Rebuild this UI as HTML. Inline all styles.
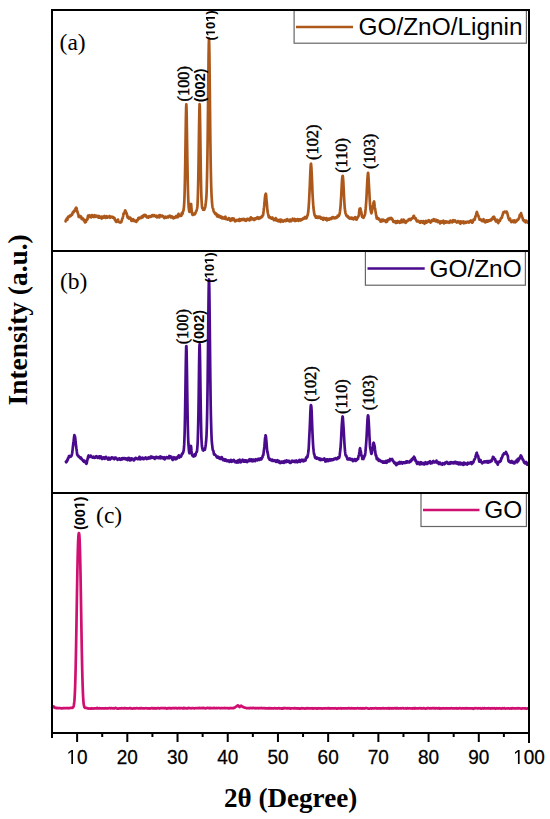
<!DOCTYPE html>
<html><head><meta charset="utf-8"><title>XRD patterns</title>
<style>
html,body{margin:0;padding:0;background:#fff;}
body{width:550px;height:819px;overflow:hidden;font-family:"Liberation Sans", sans-serif;}
svg{display:block;}
</style></head><body>
<svg width="550" height="819" viewBox="0 0 550 819">
<rect width="550" height="819" fill="#fff"/>
<g fill="none" stroke-linejoin="round" stroke-linecap="round" stroke-width="2.7">
<path stroke="#AD581B" d="M65.60 221.45L65.80 220.24L66.00 220.64L66.20 220.11L66.40 219.29L66.60 219.05L66.81 218.51L67.01 220.03L67.21 219.87L67.41 219.73L67.61 218.19L67.81 217.61L68.01 217.09L68.21 216.77L68.41 216.89L68.61 216.89L68.81 217.07L69.01 216.56L69.22 216.37L69.42 216.39L69.62 216.53L69.82 216.24L70.02 215.53L70.22 215.42L70.42 216.14L70.62 216.00L70.82 215.62L71.02 215.19L71.22 214.86L71.42 214.73L71.63 214.58L71.83 214.95L72.03 214.84L72.23 214.51L72.43 213.10L72.63 213.17L72.83 212.36L73.03 212.51L73.23 212.01L73.43 212.33L73.63 212.40L73.83 211.53L74.04 210.90L74.24 210.63L74.44 211.08L74.64 210.93L74.84 210.61L75.04 210.13L75.24 209.50L75.44 208.81L75.64 208.33L75.84 208.30L76.04 208.24L76.24 207.70L76.45 208.32L76.65 208.28L76.85 209.53L77.05 210.36L77.25 211.40L77.45 211.92L77.65 212.15L77.85 213.69L78.05 213.69L78.25 214.43L78.45 215.13L78.65 216.95L78.86 216.68L79.06 216.27L79.26 215.98L79.46 216.51L79.66 217.23L79.86 216.71L80.06 217.04L80.26 216.13L80.46 217.02L80.66 217.06L80.86 217.49L81.06 216.62L81.27 217.40L81.47 217.99L81.67 219.04L81.87 219.06L82.07 219.12L82.27 218.84L82.47 218.38L82.67 218.18L82.87 219.10L83.07 219.10L83.27 219.40L83.47 219.04L83.68 219.85L83.88 220.48L84.08 220.39L84.28 219.95L84.48 219.98L84.68 221.05L84.88 222.14L85.08 222.44L85.28 222.14L85.48 222.21L85.68 221.98L85.89 221.86L86.09 220.99L86.29 220.62L86.49 219.79L86.69 219.75L86.89 219.28L87.09 219.69L87.29 219.52L87.49 219.45L87.69 217.37L87.89 216.45L88.09 215.68L88.30 216.52L88.50 215.80L88.70 216.37L88.90 216.50L89.10 216.79L89.30 216.00L89.50 215.31L89.70 215.73L89.90 216.24L90.10 217.17L90.30 217.04L90.50 217.03L90.71 216.33L90.91 216.96L91.11 216.90L91.31 217.27L91.51 216.25L91.71 215.88L91.91 215.08L92.11 215.97L92.31 216.29L92.51 216.50L92.71 215.87L92.91 215.84L93.12 215.74L93.32 215.61L93.52 215.65L93.72 216.77L93.92 217.04L94.12 216.72L94.32 215.50L94.52 215.16L94.72 215.57L94.92 216.30L95.12 216.80L95.32 216.77L95.53 216.55L95.73 216.63L95.93 216.02L96.13 215.84L96.33 215.84L96.53 216.10L96.73 216.10L96.93 215.78L97.13 215.94L97.33 216.40L97.53 216.55L97.73 216.62L97.94 216.61L98.14 216.97L98.34 217.61L98.54 216.62L98.74 216.70L98.94 215.96L99.14 216.73L99.34 216.72L99.54 217.27L99.74 217.58L99.94 217.35L100.14 217.55L100.35 217.12L100.55 217.03L100.75 216.78L100.95 216.70L101.15 217.51L101.35 217.61L101.55 218.57L101.75 217.83L101.95 217.37L102.15 216.70L102.35 216.98L102.55 216.93L102.76 217.03L102.96 216.79L103.16 217.57L103.36 217.23L103.56 217.61L103.76 216.86L103.96 216.77L104.16 216.18L104.36 216.00L104.56 216.39L104.76 217.00L104.97 217.48L105.17 217.65L105.37 217.87L105.57 217.92L105.77 217.78L105.97 217.13L106.17 216.50L106.37 216.70L106.57 216.20L106.77 216.99L106.97 216.73L107.17 217.73L107.38 217.50L107.58 217.23L107.78 216.97L107.98 216.81L108.18 217.05L108.38 216.96L108.58 217.12L108.78 217.13L108.98 216.84L109.18 216.84L109.38 216.18L109.58 216.43L109.79 216.10L109.99 217.23L110.19 217.74L110.39 217.50L110.59 217.18L110.79 216.71L110.99 217.04L111.19 217.18L111.39 217.08L111.59 216.85L111.79 216.59L111.99 216.71L112.20 217.41L112.40 217.13L112.60 217.44L112.80 217.70L113.00 217.78L113.20 217.40L113.40 217.17L113.60 217.41L113.80 218.29L114.00 218.44L114.20 218.57L114.40 217.98L114.61 218.17L114.81 219.59L115.01 220.08L115.21 220.42L115.41 220.09L115.61 220.42L115.81 221.44L116.01 221.36L116.21 221.91L116.41 221.47L116.61 221.87L116.81 221.01L117.02 221.36L117.22 220.90L117.42 221.12L117.62 219.99L117.82 219.58L118.02 219.61L118.22 220.54L118.42 221.31L118.62 221.80L118.82 221.98L119.02 221.99L119.22 222.13L119.43 222.36L119.63 222.38L119.83 222.29L120.03 222.48L120.23 222.55L120.43 222.12L120.63 221.88L120.83 222.40L121.03 222.40L121.23 222.07L121.43 221.32L121.63 221.32L121.84 220.02L122.04 219.49L122.24 218.78L122.44 218.43L122.64 218.11L122.84 217.18L123.04 216.57L123.24 215.42L123.44 214.01L123.64 213.45L123.84 213.51L124.05 213.23L124.25 213.57L124.45 212.42L124.65 212.57L124.85 211.45L125.05 210.44L125.25 210.33L125.45 210.81L125.65 211.61L125.85 211.78L126.05 212.26L126.25 212.87L126.46 213.17L126.66 213.27L126.86 214.26L127.06 215.15L127.26 216.17L127.46 216.87L127.66 217.51L127.86 217.27L128.06 216.66L128.26 216.77L128.46 217.58L128.66 218.25L128.87 218.57L129.07 218.24L129.27 218.38L129.47 218.15L129.67 218.32L129.87 217.90L130.07 217.64L130.27 217.71L130.47 217.90L130.67 218.24L130.87 218.76L131.07 219.23L131.28 220.68L131.48 220.90L131.68 220.84L131.88 220.23L132.08 220.13L132.28 220.16L132.48 220.33L132.68 219.99L132.88 219.22L133.08 219.17L133.28 219.27L133.48 220.88L133.69 220.43L133.89 220.29L134.09 220.36L134.29 220.27L134.49 220.79L134.69 220.81L134.89 221.27L135.09 221.22L135.29 220.80L135.49 221.10L135.69 220.90L135.89 221.13L136.10 220.99L136.30 221.92L136.50 221.44L136.70 220.78L136.90 220.08L137.10 219.91L137.30 220.17L137.50 219.81L137.70 220.20L137.90 219.72L138.10 219.50L138.30 218.07L138.51 217.83L138.71 218.24L138.91 218.73L139.11 218.65L139.31 217.55L139.51 217.83L139.71 217.98L139.91 217.84L140.11 217.74L140.31 217.64L140.51 218.18L140.71 217.60L140.92 217.99L141.12 217.74L141.32 217.80L141.52 216.89L141.72 216.54L141.92 216.75L142.12 216.71L142.32 217.04L142.52 216.82L142.72 217.25L142.92 217.03L143.13 216.68L143.33 215.44L143.53 215.14L143.73 215.30L143.93 215.89L144.13 215.96L144.33 215.58L144.53 215.44L144.73 214.98L144.93 215.66L145.13 215.89L145.33 216.10L145.54 215.22L145.74 215.16L145.94 215.88L146.14 216.54L146.34 216.40L146.54 216.44L146.74 216.82L146.94 217.46L147.14 217.29L147.34 217.24L147.54 217.14L147.74 217.19L147.95 216.57L148.15 216.89L148.35 216.68L148.55 217.62L148.75 216.38L148.95 216.51L149.15 216.13L149.35 216.69L149.55 216.57L149.75 216.47L149.95 216.76L150.15 216.39L150.36 216.06L150.56 216.18L150.76 216.78L150.96 216.84L151.16 216.49L151.36 216.09L151.56 216.39L151.76 215.97L151.96 215.42L152.16 215.12L152.36 215.13L152.56 215.41L152.77 215.42L152.97 215.99L153.17 215.85L153.37 216.12L153.57 215.37L153.77 215.94L153.97 215.15L154.17 215.35L154.37 215.40L154.57 215.83L154.77 216.02L154.97 215.67L155.18 215.99L155.38 216.27L155.58 216.44L155.78 216.66L155.98 216.46L156.18 216.29L156.38 215.72L156.58 216.34L156.78 216.81L156.98 217.41L157.18 216.97L157.38 216.55L157.59 216.37L157.79 216.22L157.99 216.53L158.19 216.46L158.39 216.33L158.59 215.99L158.79 215.67L158.99 216.48L159.19 217.37L159.39 217.35L159.59 216.73L159.79 215.03L160.00 215.11L160.20 215.15L160.40 215.62L160.60 215.86L160.80 215.38L161.00 215.72L161.20 215.54L161.40 215.70L161.60 216.12L161.80 216.48L162.00 216.48L162.21 215.75L162.41 215.64L162.61 216.15L162.81 216.27L163.01 216.01L163.21 216.03L163.41 216.44L163.61 216.88L163.81 217.09L164.01 217.79L164.21 217.98L164.41 218.08L164.62 217.84L164.82 217.81L165.02 217.82L165.22 217.03L165.42 216.86L165.62 216.64L165.82 217.61L166.02 217.35L166.22 217.50L166.42 217.05L166.62 217.59L166.82 217.47L167.03 217.26L167.23 216.78L167.43 216.57L167.63 216.71L167.83 216.60L168.03 216.83L168.23 217.38L168.43 217.19L168.63 217.05L168.83 216.26L169.03 216.58L169.23 216.10L169.44 215.88L169.64 215.58L169.84 216.11L170.04 216.31L170.24 216.24L170.44 215.85L170.64 216.13L170.84 216.89L171.04 217.39L171.24 217.38L171.44 217.12L171.64 216.78L171.85 216.70L172.05 216.55L172.25 217.06L172.45 217.25L172.65 217.01L172.85 217.39L173.05 218.04L173.25 218.33L173.45 218.04L173.65 217.51L173.85 217.83L174.05 217.15L174.26 217.57L174.46 217.10L174.66 218.00L174.86 217.43L175.06 217.42L175.26 216.89L175.46 217.12L175.66 216.92L175.86 216.79L176.06 216.27L176.26 215.92L176.46 216.45L176.67 216.76L176.87 217.29L177.07 217.18L177.27 216.59L177.47 216.51L177.67 216.63L177.87 217.22L178.07 216.41L178.27 214.59L178.47 213.82L178.67 214.86L178.87 215.76L179.08 215.95L179.28 215.69L179.48 215.45L179.68 215.49L179.88 215.44L180.08 215.79L180.28 215.76L180.48 215.18L180.68 215.09L180.88 214.68L181.08 215.20L181.29 215.75L181.49 215.47L181.69 214.08L181.89 212.83L182.09 212.96L182.29 213.79L182.49 213.97L182.69 213.19L182.89 212.10L183.09 211.60L183.29 210.78L183.49 210.49L183.70 208.71L183.90 207.57L184.10 204.93L184.30 201.75L184.50 196.88L184.70 189.72L184.90 181.04L185.10 170.22L185.30 158.26L185.50 144.86L185.70 130.76L185.90 117.77L186.11 107.98L186.31 104.45L186.51 107.99L186.71 116.73L186.91 129.68L187.11 143.46L187.31 157.41L187.51 169.05L187.71 179.69L187.91 188.64L188.11 195.16L188.31 200.44L188.52 204.34L188.72 207.59L188.92 209.11L189.12 210.60L189.32 211.77L189.52 211.88L189.72 211.35L189.92 210.80L190.12 210.42L190.32 208.26L190.52 206.55L190.72 204.24L190.93 203.85L191.13 204.13L191.33 206.77L191.53 209.15L191.73 211.06L191.93 212.38L192.13 213.79L192.33 214.37L192.53 214.86L192.73 214.58L192.93 214.56L193.13 214.65L193.34 214.29L193.54 214.81L193.74 214.08L193.94 214.47L194.14 213.64L194.34 213.44L194.54 213.55L194.74 213.92L194.94 214.07L195.14 213.38L195.34 213.27L195.54 212.54L195.75 212.03L195.95 211.49L196.15 211.29L196.35 210.97L196.55 210.41L196.75 209.89L196.95 209.05L197.15 208.25L197.35 206.66L197.55 204.29L197.75 199.63L197.95 193.40L198.16 184.80L198.36 174.78L198.56 162.11L198.76 148.46L198.96 133.97L199.16 121.05L199.36 110.38L199.56 104.18L199.76 105.32L199.96 112.93L200.16 126.21L200.37 140.62L200.57 155.70L200.77 169.42L200.97 180.85L201.17 190.17L201.37 196.01L201.57 200.40L201.77 203.42L201.97 206.25L202.17 207.71L202.37 208.31L202.57 207.92L202.78 208.51L202.98 209.10L203.18 209.75L203.38 209.72L203.58 208.95L203.78 209.04L203.98 209.37L204.18 209.85L204.38 209.52L204.58 208.44L204.78 208.37L204.98 207.69L205.19 207.37L205.39 206.14L205.59 204.33L205.79 202.96L205.99 200.86L206.19 199.36L206.39 196.70L206.59 192.73L206.79 186.44L206.99 178.65L207.19 169.34L207.39 158.54L207.60 144.34L207.80 127.51L208.00 109.52L208.20 90.82L208.40 72.39L208.60 54.96L208.80 43.74L209.00 38.33L209.20 42.69L209.40 54.13L209.60 71.51L209.80 90.67L210.01 108.90L210.21 127.71L210.41 143.59L210.61 158.19L210.81 169.48L211.01 178.99L211.21 186.62L211.41 191.80L211.61 196.27L211.81 199.24L212.01 202.09L212.21 204.42L212.42 206.26L212.62 207.52L212.82 208.18L213.02 208.53L213.22 209.23L213.42 210.33L213.62 210.98L213.82 211.74L214.02 211.87L214.22 212.06L214.42 212.59L214.62 212.60L214.83 213.20L215.03 213.69L215.23 213.93L215.43 214.15L215.63 213.31L215.83 213.71L216.03 213.41L216.23 214.00L216.43 214.15L216.63 214.86L216.83 215.68L217.03 216.09L217.24 216.40L217.44 215.96L217.64 215.89L217.84 215.48L218.04 214.98L218.24 215.18L218.44 216.12L218.64 216.99L218.84 216.87L219.04 216.96L219.24 216.76L219.45 216.83L219.65 215.95L219.85 215.86L220.05 216.09L220.25 217.28L220.45 217.64L220.65 217.45L220.85 216.65L221.05 216.73L221.25 216.58L221.45 216.91L221.65 217.31L221.86 218.09L222.06 218.33L222.26 217.72L222.46 217.10L222.66 217.41L222.86 218.31L223.06 218.42L223.26 218.09L223.46 217.76L223.66 218.51L223.86 218.55L224.06 218.40L224.27 218.32L224.47 218.34L224.67 218.52L224.87 217.85L225.07 216.80L225.27 216.58L225.47 216.69L225.67 217.83L225.87 218.38L226.07 219.06L226.27 218.88L226.47 218.68L226.68 219.02L226.88 218.93L227.08 219.25L227.28 219.12L227.48 219.48L227.68 219.69L227.88 219.23L228.08 219.49L228.28 218.70L228.48 218.71L228.68 218.04L228.88 218.54L229.09 218.51L229.29 218.92L229.49 218.41L229.69 219.13L229.89 219.78L230.09 220.28L230.29 220.51L230.49 220.10L230.69 220.80L230.89 220.30L231.09 219.60L231.29 219.40L231.50 219.35L231.70 219.57L231.90 218.86L232.10 218.37L232.30 218.70L232.50 218.59L232.70 219.69L232.90 220.01L233.10 219.85L233.30 218.87L233.50 218.50L233.70 218.47L233.91 219.00L234.11 219.24L234.31 219.69L234.51 219.59L234.71 219.83L234.91 220.64L235.11 221.39L235.31 221.29L235.51 221.15L235.71 220.43L235.91 220.62L236.11 220.05L236.32 220.60L236.52 220.09L236.72 220.14L236.92 219.94L237.12 220.55L237.32 220.34L237.52 220.11L237.72 219.92L237.92 220.44L238.12 220.29L238.32 220.23L238.53 220.01L238.73 220.73L238.93 220.84L239.13 220.43L239.33 219.15L239.53 218.94L239.73 219.75L239.93 220.52L240.13 220.74L240.33 220.12L240.53 219.54L240.73 219.45L240.94 219.60L241.14 220.29L241.34 219.56L241.54 219.59L241.74 219.14L241.94 219.90L242.14 219.63L242.34 219.64L242.54 219.16L242.74 219.80L242.94 220.02L243.14 219.96L243.35 219.18L243.55 218.81L243.75 219.57L243.95 219.30L244.15 219.37L244.35 219.09L244.55 220.12L244.75 220.36L244.95 220.41L245.15 220.25L245.35 220.61L245.55 220.33L245.76 220.62L245.96 220.33L246.16 220.82L246.36 219.85L246.56 220.08L246.76 219.10L246.96 218.94L247.16 218.77L247.36 218.89L247.56 219.54L247.76 218.98L247.96 219.79L248.17 219.61L248.37 219.57L248.57 219.06L248.77 219.33L248.97 219.43L249.17 219.53L249.37 219.90L249.57 220.44L249.77 220.23L249.97 219.31L250.17 219.19L250.37 218.64L250.58 217.77L250.78 217.32L250.98 217.44L251.18 219.06L251.38 219.31L251.58 219.32L251.78 218.29L251.98 218.39L252.18 218.41L252.38 218.59L252.58 218.36L252.78 218.65L252.99 218.85L253.19 218.90L253.39 219.29L253.59 219.81L253.79 219.18L253.99 219.59L254.19 219.02L254.39 219.98L254.59 218.82L254.79 218.85L254.99 218.47L255.19 218.73L255.40 218.88L255.60 219.00L255.80 218.58L256.00 218.21L256.20 218.22L256.40 218.76L256.60 218.65L256.80 218.27L257.00 217.95L257.20 217.65L257.40 217.27L257.61 217.82L257.81 218.02L258.01 218.46L258.21 217.62L258.41 218.16L258.61 218.69L258.81 218.82L259.01 218.50L259.21 217.59L259.41 218.22L259.61 218.31L259.81 218.22L260.02 217.98L260.22 217.72L260.42 218.08L260.62 217.70L260.82 217.27L261.02 216.85L261.22 216.88L261.42 217.01L261.62 216.77L261.82 217.13L262.02 216.91L262.22 216.82L262.43 215.60L262.63 215.52L262.83 215.54L263.03 215.20L263.23 214.40L263.43 212.47L263.63 210.92L263.83 208.86L264.03 207.51L264.23 205.70L264.43 202.89L264.63 201.60L264.84 198.82L265.04 197.54L265.24 195.09L265.44 194.66L265.64 194.40L265.84 193.72L266.04 194.39L266.24 196.46L266.44 199.38L266.64 201.76L266.84 203.05L267.04 206.02L267.25 208.58L267.45 210.85L267.65 211.90L267.85 212.93L268.05 213.86L268.25 214.60L268.45 215.34L268.65 216.39L268.85 217.27L269.05 217.47L269.25 217.34L269.45 217.21L269.66 217.12L269.86 216.96L270.06 217.32L270.26 217.52L270.46 218.10L270.66 218.04L270.86 217.89L271.06 218.16L271.26 218.18L271.46 218.61L271.66 218.61L271.86 218.27L272.07 217.62L272.27 217.47L272.47 217.49L272.67 218.61L272.87 218.87L273.07 219.07L273.27 218.85L273.47 219.29L273.67 219.93L273.87 220.10L274.07 219.84L274.27 219.42L274.48 219.31L274.68 219.42L274.88 219.54L275.08 219.74L275.28 219.22L275.48 218.74L275.68 218.11L275.88 218.40L276.08 219.49L276.28 220.53L276.48 220.40L276.69 219.46L276.89 219.38L277.09 219.94L277.29 220.06L277.49 220.20L277.69 220.16L277.89 221.13L278.09 220.93L278.29 221.21L278.49 220.89L278.69 220.47L278.89 220.11L279.10 219.80L279.30 220.44L279.50 220.20L279.70 219.94L279.90 219.91L280.10 220.68L280.30 221.73L280.50 221.89L280.70 221.01L280.90 220.30L281.10 219.76L281.30 220.30L281.51 219.82L281.71 220.03L281.91 220.16L282.11 220.57L282.31 220.59L282.51 220.88L282.71 221.20L282.91 221.50L283.11 221.41L283.31 221.51L283.51 221.26L283.71 220.76L283.92 221.02L284.12 220.70L284.32 220.56L284.52 220.35L284.72 220.24L284.92 220.60L285.12 220.70L285.32 220.95L285.52 220.81L285.72 220.74L285.92 220.95L286.12 220.37L286.33 219.61L286.53 219.80L286.73 220.47L286.93 220.20L287.13 219.28L287.33 219.15L287.53 219.53L287.73 220.16L287.93 220.17L288.13 220.68L288.33 220.12L288.53 220.30L288.74 220.81L288.94 220.93L289.14 221.17L289.34 220.83L289.54 221.33L289.74 220.85L289.94 220.11L290.14 219.57L290.34 219.83L290.54 220.54L290.74 221.23L290.94 221.28L291.15 221.22L291.35 220.63L291.55 219.85L291.75 219.59L291.95 219.88L292.15 220.30L292.35 219.68L292.55 219.30L292.75 218.73L292.95 219.28L293.15 219.07L293.35 219.49L293.56 219.52L293.76 219.90L293.96 220.40L294.16 219.92L294.36 219.14L294.56 219.02L294.76 219.90L294.96 221.16L295.16 220.96L295.36 220.68L295.56 220.25L295.77 219.73L295.97 219.37L296.17 219.51L296.37 219.78L296.57 220.65L296.77 219.97L296.97 220.04L297.17 219.78L297.37 220.12L297.57 219.90L297.77 219.06L297.97 219.04L298.18 219.92L298.38 220.49L298.58 220.88L298.78 220.15L298.98 220.26L299.18 220.09L299.38 219.91L299.58 219.43L299.78 219.42L299.98 220.10L300.18 220.19L300.38 220.25L300.59 220.50L300.79 220.21L300.99 219.56L301.19 219.16L301.39 219.54L301.59 219.88L301.79 219.59L301.99 219.27L302.19 219.42L302.39 219.15L302.59 219.47L302.79 218.83L303.00 218.59L303.20 218.28L303.40 218.45L303.60 218.89L303.80 218.75L304.00 218.64L304.20 218.38L304.40 218.11L304.60 217.66L304.80 217.09L305.00 216.88L305.20 217.14L305.41 217.44L305.61 217.90L305.81 218.11L306.01 218.53L306.21 218.48L306.41 218.02L306.61 217.74L306.81 217.43L307.01 217.00L307.21 216.13L307.41 215.59L307.61 215.18L307.82 214.59L308.02 213.29L308.22 212.09L308.42 209.93L308.62 207.80L308.82 204.83L309.02 202.07L309.22 197.72L309.42 193.82L309.62 189.44L309.82 185.31L310.02 180.16L310.23 175.03L310.43 170.15L310.63 166.41L310.83 163.96L311.03 163.69L311.23 165.50L311.43 168.04L311.63 172.31L311.83 176.06L312.03 181.04L312.23 185.65L312.43 191.33L312.64 195.76L312.84 198.93L313.04 202.04L313.24 205.09L313.44 207.81L313.64 209.21L313.84 210.49L314.04 212.08L314.24 213.58L314.44 214.02L314.64 215.32L314.85 215.51L315.05 216.23L315.25 215.94L315.45 216.21L315.65 217.33L315.85 217.63L316.05 217.60L316.25 216.80L316.45 216.37L316.65 216.48L316.85 216.95L317.05 216.98L317.26 217.73L317.46 217.55L317.66 217.78L317.86 217.62L318.06 217.02L318.26 216.80L318.46 216.73L318.66 217.45L318.86 217.81L319.06 217.78L319.26 217.60L319.46 217.58L319.67 217.01L319.87 216.60L320.07 217.12L320.27 217.32L320.47 217.77L320.67 217.86L320.87 218.59L321.07 218.70L321.27 218.08L321.47 217.72L321.67 217.62L321.87 218.03L322.08 218.14L322.28 218.55L322.48 218.66L322.68 218.89L322.88 219.52L323.08 219.81L323.28 219.01L323.48 218.72L323.68 217.85L323.88 217.98L324.08 217.94L324.28 218.12L324.49 218.53L324.69 218.69L324.89 218.73L325.09 218.56L325.29 218.33L325.49 219.01L325.69 219.53L325.89 218.91L326.09 218.29L326.29 218.08L326.49 219.31L326.69 219.87L326.90 220.24L327.10 220.01L327.30 219.62L327.50 219.52L327.70 219.30L327.90 219.10L328.10 218.90L328.30 218.86L328.50 218.75L328.70 218.97L328.90 218.97L329.10 219.62L329.31 219.01L329.51 218.71L329.71 218.78L329.91 219.25L330.11 218.87L330.31 218.38L330.51 218.52L330.71 218.69L330.91 218.67L331.11 219.02L331.31 219.03L331.51 218.85L331.72 217.61L331.92 217.39L332.12 217.92L332.32 218.21L332.52 218.01L332.72 217.17L332.92 217.20L333.12 217.85L333.32 217.90L333.52 218.12L333.72 217.67L333.93 218.03L334.13 217.94L334.33 218.29L334.53 218.00L334.73 217.74L334.93 217.68L335.13 217.35L335.33 217.44L335.53 217.40L335.73 218.17L335.93 218.05L336.13 217.76L336.34 217.40L336.54 217.10L336.74 217.03L336.94 217.05L337.14 217.32L337.34 216.95L337.54 216.59L337.74 215.65L337.94 216.16L338.14 215.93L338.34 216.56L338.54 215.68L338.75 215.56L338.95 215.29L339.15 215.57L339.35 214.56L339.55 213.97L339.75 212.65L339.95 211.66L340.15 210.04L340.35 208.14L340.55 206.07L340.75 203.00L340.95 200.11L341.16 196.77L341.36 193.20L341.56 188.85L341.76 184.71L341.96 181.21L342.16 178.84L342.36 176.76L342.56 176.06L342.76 175.91L342.96 177.15L343.16 179.56L343.36 182.67L343.57 187.03L343.77 191.16L343.97 195.28L344.17 198.76L344.37 202.55L344.57 205.64L344.77 208.25L344.97 209.75L345.17 211.33L345.37 212.58L345.57 213.53L345.77 213.59L345.98 214.76L346.18 214.78L346.38 215.64L346.58 215.66L346.78 216.29L346.98 216.44L347.18 216.51L347.38 216.26L347.58 216.59L347.78 216.11L347.98 216.33L348.18 216.79L348.39 217.44L348.59 217.90L348.79 218.15L348.99 218.16L349.19 217.88L349.39 217.53L349.59 218.15L349.79 218.44L349.99 218.69L350.19 218.12L350.39 218.22L350.59 218.29L350.80 218.34L351.00 218.23L351.20 217.83L351.40 217.56L351.60 217.77L351.80 218.31L352.00 218.93L352.20 218.82L352.40 218.29L352.60 218.19L352.80 218.39L353.01 218.17L353.21 218.26L353.41 218.29L353.61 219.41L353.81 218.78L354.01 218.17L354.21 217.90L354.41 217.70L354.61 217.92L354.81 217.30L355.01 217.59L355.21 217.21L355.42 217.52L355.62 218.22L355.82 219.04L356.02 219.28L356.22 218.80L356.42 219.11L356.62 219.09L356.82 219.52L357.02 218.43L357.22 218.27L357.42 217.38L357.62 217.84L357.83 217.52L358.03 217.14L358.23 216.56L358.43 216.20L358.63 215.89L358.83 215.00L359.03 213.12L359.23 211.44L359.43 209.60L359.63 208.80L359.83 208.59L360.03 208.69L360.24 208.72L360.44 208.49L360.64 209.42L360.84 210.48L361.04 211.42L361.24 211.85L361.44 212.87L361.64 214.10L361.84 215.96L362.04 216.61L362.24 216.93L362.44 216.43L362.65 217.09L362.85 217.16L363.05 217.57L363.25 217.11L363.45 217.82L363.65 217.58L363.85 217.08L364.05 216.49L364.25 215.98L364.45 216.01L364.65 215.24L364.85 215.15L365.06 213.85L365.26 212.82L365.46 210.43L365.66 208.67L365.86 206.31L366.06 203.97L366.26 201.21L366.46 197.60L366.66 193.51L366.86 189.62L367.06 185.68L367.26 181.87L367.47 178.43L367.67 176.08L367.87 173.75L368.07 172.83L368.27 173.76L368.47 177.07L368.67 180.06L368.87 183.96L369.07 187.34L369.27 191.42L369.47 194.76L369.67 198.58L369.88 202.11L370.08 205.18L370.28 207.49L370.48 209.57L370.68 210.45L370.88 211.44L371.08 212.23L371.28 212.83L371.48 213.28L371.68 212.25L371.88 211.56L372.09 210.33L372.29 209.50L372.49 208.25L372.69 206.96L372.89 205.76L373.09 204.96L373.29 203.82L373.49 202.92L373.69 202.31L373.89 201.86L374.09 201.52L374.29 202.62L374.50 204.65L374.70 206.64L374.90 207.77L375.10 208.59L375.30 209.64L375.50 211.06L375.70 212.16L375.90 214.07L376.10 214.68L376.30 216.08L376.50 217.06L376.70 218.44L376.91 218.64L377.11 218.65L377.31 217.88L377.51 217.95L377.71 217.85L377.91 218.78L378.11 218.92L378.31 219.14L378.51 218.85L378.71 218.75L378.91 218.65L379.11 219.26L379.32 219.79L379.52 220.12L379.72 220.01L379.92 219.91L380.12 220.27L380.32 220.62L380.52 221.53L380.72 221.66L380.92 221.10L381.12 220.42L381.32 219.74L381.52 219.63L381.73 219.60L381.93 220.24L382.13 221.09L382.33 221.18L382.53 221.16L382.73 220.26L382.93 220.40L383.13 219.82L383.33 219.73L383.53 219.89L383.73 220.29L383.93 220.74L384.14 220.58L384.34 220.25L384.54 220.37L384.74 220.38L384.94 220.83L385.14 220.49L385.34 220.80L385.54 220.93L385.74 221.79L385.94 222.11L386.14 221.93L386.34 221.16L386.55 220.06L386.75 219.88L386.95 220.49L387.15 221.58L387.35 220.60L387.55 219.74L387.75 218.94L387.95 219.34L388.15 219.56L388.35 219.58L388.55 219.65L388.75 219.46L388.96 218.79L389.16 218.52L389.36 218.12L389.56 218.83L389.76 218.41L389.96 218.45L390.16 218.21L390.36 218.55L390.56 218.70L390.76 218.01L390.96 217.98L391.17 217.82L391.37 218.61L391.57 218.68L391.77 219.16L391.97 218.70L392.17 218.79L392.37 219.15L392.57 219.65L392.77 220.40L392.97 220.41L393.17 221.24L393.37 221.88L393.58 221.62L393.78 221.73L393.98 221.26L394.18 221.92L394.38 221.44L394.58 221.74L394.78 221.40L394.98 221.40L395.18 221.09L395.38 221.77L395.58 222.44L395.78 222.93L395.99 222.92L396.19 222.37L396.39 221.47L396.59 221.45L396.79 221.67L396.99 222.36L397.19 222.68L397.39 222.53L397.59 222.31L397.79 220.98L397.99 221.20L398.19 221.22L398.40 221.73L398.60 221.63L398.80 221.26L399.00 221.29L399.20 221.79L399.40 222.37L399.60 222.84L399.80 222.39L400.00 222.32L400.20 222.03L400.40 222.52L400.60 222.24L400.81 222.39L401.01 221.49L401.21 221.38L401.41 220.28L401.61 219.67L401.81 220.31L402.01 221.64L402.21 222.14L402.41 221.58L402.61 221.26L402.81 221.05L403.01 221.65L403.22 221.07L403.42 221.15L403.62 219.57L403.82 220.43L404.02 220.68L404.22 222.17L404.42 221.29L404.62 221.37L404.82 220.82L405.02 221.22L405.22 221.80L405.42 222.54L405.63 222.93L405.83 222.06L406.03 221.57L406.23 221.54L406.43 221.86L406.63 221.73L406.83 221.42L407.03 220.89L407.23 220.73L407.43 221.07L407.63 220.98L407.83 220.88L408.04 220.56L408.24 220.39L408.44 220.26L408.64 219.34L408.84 219.55L409.04 219.07L409.24 219.29L409.44 219.28L409.64 219.62L409.84 219.81L410.04 219.10L410.25 219.69L410.45 219.61L410.65 220.01L410.85 219.20L411.05 219.30L411.25 219.06L411.45 218.87L411.65 218.33L411.85 218.59L412.05 218.21L412.25 218.26L412.45 217.93L412.66 217.86L412.86 217.85L413.06 217.45L413.26 216.82L413.46 216.21L413.66 215.97L413.86 216.08L414.06 215.98L414.26 217.15L414.46 217.64L414.66 218.12L414.86 217.63L415.07 218.41L415.27 218.63L415.47 218.84L415.67 218.33L415.87 218.88L416.07 219.76L416.27 219.98L416.47 219.90L416.67 220.21L416.87 221.46L417.07 221.48L417.27 221.15L417.48 221.11L417.68 221.40L417.88 221.41L418.08 220.97L418.28 220.73L418.48 220.92L418.68 221.24L418.88 221.23L419.08 221.27L419.28 221.58L419.48 222.15L419.68 222.47L419.89 221.93L420.09 222.35L420.29 221.78L420.49 222.64L420.69 222.04L420.89 222.09L421.09 221.16L421.29 221.20L421.49 221.30L421.69 221.40L421.89 221.45L422.09 221.87L422.30 222.44L422.50 222.46L422.70 222.68L422.90 222.06L423.10 221.85L423.30 221.06L423.50 221.64L423.70 221.48L423.90 221.42L424.10 221.68L424.30 222.82L424.50 223.79L424.71 222.86L424.91 222.30L425.11 222.12L425.31 222.62L425.51 222.02L425.71 221.58L425.91 220.92L426.11 221.01L426.31 221.83L426.51 222.61L426.71 222.48L426.91 221.19L427.12 221.07L427.32 221.33L427.52 222.00L427.72 221.58L427.92 221.68L428.12 221.53L428.32 221.35L428.52 220.72L428.72 220.19L428.92 220.26L429.12 220.81L429.33 221.16L429.53 221.34L429.73 221.54L429.93 221.22L430.13 221.67L430.33 222.12L430.53 222.49L430.73 222.01L430.93 221.69L431.13 221.73L431.33 221.67L431.53 221.12L431.74 220.59L431.94 220.06L432.14 220.29L432.34 220.89L432.54 220.87L432.74 220.55L432.94 220.16L433.14 220.32L433.34 220.02L433.54 219.75L433.74 219.16L433.94 219.34L434.15 219.31L434.35 220.66L434.55 220.94L434.75 220.86L434.95 220.07L435.15 220.40L435.35 221.17L435.55 221.34L435.75 220.80L435.95 219.85L436.15 219.78L436.35 219.87L436.56 220.21L436.76 221.02L436.96 220.53L437.16 220.84L437.36 220.48L437.56 221.38L437.76 222.11L437.96 221.59L438.16 221.25L438.36 220.77L438.56 221.37L438.76 221.56L438.97 221.33L439.17 221.72L439.37 221.56L439.57 221.69L439.77 221.88L439.97 222.91L440.17 223.47L440.37 222.75L440.57 221.93L440.77 221.38L440.97 221.36L441.17 221.50L441.38 222.22L441.58 222.67L441.78 222.53L441.98 221.81L442.18 221.31L442.38 221.96L442.58 221.51L442.78 221.99L442.98 221.06L443.18 221.37L443.38 220.74L443.58 221.55L443.79 221.86L443.99 223.30L444.19 222.59L444.39 222.22L444.59 221.46L444.79 221.99L444.99 222.25L445.19 221.33L445.39 221.61L445.59 221.88L445.79 222.69L445.99 221.97L446.20 222.00L446.40 221.67L446.60 221.89L446.80 221.61L447.00 222.24L447.20 222.06L447.40 222.01L447.60 221.96L447.80 222.21L448.00 222.32L448.20 221.86L448.41 222.11L448.61 221.90L448.81 222.15L449.01 222.52L449.21 222.89L449.41 222.46L449.61 221.35L449.81 221.27L450.01 221.12L450.21 220.99L450.41 220.68L450.61 220.73L450.82 221.58L451.02 221.34L451.22 222.23L451.42 221.64L451.62 222.15L451.82 221.81L452.02 222.11L452.22 222.29L452.42 221.68L452.62 220.80L452.82 220.45L453.02 220.18L453.23 220.73L453.43 221.09L453.63 221.57L453.83 221.53L454.03 220.79L454.23 220.73L454.43 220.84L454.63 220.65L454.83 220.82L455.03 220.49L455.23 221.14L455.43 220.91L455.64 221.65L455.84 221.90L456.04 222.09L456.24 221.74L456.44 221.63L456.64 222.13L456.84 222.57L457.04 222.51L457.24 222.18L457.44 222.39L457.64 221.80L457.84 221.91L458.05 221.09L458.25 222.16L458.45 221.83L458.65 222.14L458.85 221.33L459.05 221.54L459.25 221.87L459.45 222.84L459.65 222.43L459.85 222.03L460.05 222.82L460.25 223.60L460.46 223.77L460.66 222.63L460.86 221.41L461.06 221.99L461.26 221.89L461.46 222.33L461.66 222.20L461.86 221.95L462.06 222.11L462.26 221.91L462.46 222.29L462.66 222.51L462.87 222.32L463.07 221.74L463.27 221.40L463.47 221.73L463.67 222.65L463.87 223.29L464.07 223.11L464.27 222.52L464.47 222.33L464.67 221.88L464.87 222.62L465.07 222.47L465.28 222.93L465.48 222.33L465.68 222.04L465.88 222.57L466.08 222.44L466.28 222.66L466.48 222.03L466.68 221.85L466.88 222.13L467.08 221.73L467.28 222.16L467.49 222.09L467.69 221.88L467.89 221.97L468.09 221.94L468.29 221.96L468.49 221.65L468.69 221.66L468.89 222.61L469.09 222.11L469.29 222.19L469.49 221.44L469.69 221.88L469.90 221.42L470.10 221.43L470.30 221.47L470.50 221.22L470.70 220.59L470.90 220.50L471.10 220.83L471.30 221.66L471.50 221.96L471.70 222.11L471.90 222.57L472.10 222.41L472.31 222.60L472.51 222.32L472.71 222.17L472.91 221.74L473.11 221.13L473.31 220.30L473.51 219.76L473.71 219.38L473.91 219.56L474.11 219.25L474.31 219.14L474.51 219.17L474.72 219.67L474.92 218.81L475.12 217.92L475.32 216.81L475.52 216.49L475.72 215.83L475.92 215.22L476.12 214.65L476.32 213.85L476.52 213.00L476.72 212.22L476.92 211.88L477.13 212.98L477.33 213.61L477.53 214.28L477.73 214.94L477.93 215.08L478.13 215.32L478.33 215.60L478.53 216.52L478.73 216.85L478.93 217.59L479.13 218.14L479.33 218.73L479.54 219.55L479.74 219.25L479.94 219.71L480.14 218.95L480.34 219.55L480.54 219.87L480.74 219.95L480.94 219.99L481.14 219.88L481.34 219.93L481.54 220.49L481.74 220.72L481.95 221.02L482.15 220.42L482.35 220.28L482.55 220.46L482.75 220.57L482.95 221.15L483.15 220.25L483.35 219.71L483.55 219.22L483.75 219.50L483.95 220.25L484.15 220.14L484.36 221.01L484.56 221.21L484.76 221.92L484.96 222.07L485.16 222.39L485.36 222.16L485.56 222.24L485.76 222.02L485.96 221.67L486.16 220.91L486.36 220.35L486.57 220.76L486.77 220.40L486.97 220.91L487.17 220.52L487.37 221.63L487.57 221.68L487.77 221.66L487.97 221.29L488.17 220.32L488.37 220.55L488.57 220.58L488.77 220.61L488.98 220.69L489.18 220.37L489.38 220.94L489.58 220.04L489.78 220.17L489.98 220.19L490.18 220.55L490.38 219.89L490.58 219.83L490.78 220.10L490.98 220.36L491.18 220.22L491.39 219.37L491.59 219.06L491.79 218.63L491.99 218.66L492.19 219.36L492.39 219.15L492.59 218.69L492.79 217.79L492.99 217.05L493.19 217.15L493.39 216.91L493.59 216.90L493.80 216.98L494.00 216.73L494.20 217.28L494.40 217.50L494.60 218.75L494.80 219.27L495.00 219.76L495.20 219.01L495.40 219.83L495.60 220.54L495.80 221.37L496.00 220.93L496.21 220.72L496.41 220.58L496.61 221.35L496.81 221.54L497.01 221.39L497.21 220.71L497.41 219.93L497.61 220.84L497.81 221.49L498.01 222.80L498.21 223.12L498.41 222.41L498.62 221.77L498.82 221.21L499.02 221.57L499.22 221.06L499.42 220.82L499.62 220.53L499.82 221.00L500.02 220.53L500.22 220.10L500.42 219.27L500.62 218.97L500.82 218.43L501.03 218.02L501.23 217.85L501.43 217.80L501.63 217.90L501.83 217.63L502.03 217.22L502.23 215.90L502.43 215.25L502.63 215.02L502.83 214.58L503.03 213.62L503.23 212.50L503.44 212.21L503.64 212.10L503.84 211.90L504.04 212.27L504.24 211.82L504.44 211.98L504.64 211.55L504.84 211.51L505.04 211.78L505.24 211.84L505.44 212.24L505.65 211.78L505.85 212.09L506.05 212.18L506.25 212.31L506.45 211.53L506.65 211.68L506.85 212.04L507.05 212.78L507.25 212.90L507.45 213.72L507.65 214.75L507.85 215.34L508.06 216.30L508.26 217.36L508.46 218.29L508.66 218.21L508.86 218.96L509.06 219.61L509.26 220.06L509.46 219.48L509.66 218.59L509.86 218.43L510.06 218.74L510.26 220.32L510.47 220.32L510.67 220.40L510.87 220.76L511.07 221.70L511.27 222.08L511.47 221.84L511.67 221.56L511.87 221.36L512.07 221.20L512.27 221.53L512.47 221.22L512.67 221.50L512.88 220.61L513.08 220.74L513.28 221.27L513.48 221.70L513.68 222.16L513.88 220.76L514.08 220.83L514.28 220.35L514.48 220.56L514.68 220.90L514.88 221.75L515.08 222.09L515.29 222.30L515.49 221.42L515.69 221.53L515.89 221.09L516.09 221.63L516.29 220.88L516.49 220.51L516.69 220.41L516.89 220.66L517.09 220.67L517.29 219.87L517.49 219.52L517.70 219.55L517.90 219.93L518.10 219.67L518.30 219.29L518.50 219.08L518.70 218.48L518.90 218.51L519.10 217.95L519.30 217.87L519.50 216.30L519.70 215.34L519.90 214.62L520.11 214.83L520.31 214.59L520.51 214.66L520.71 214.49L520.91 214.37L521.11 213.17L521.31 214.14L521.51 214.66L521.71 216.09L521.91 215.91L522.11 216.53L522.31 217.09L522.52 217.93L522.72 218.79L522.92 219.02L523.12 220.15L523.32 219.70L523.52 220.10L523.72 220.28L523.92 221.08L524.12 221.17L524.32 220.28L524.52 220.83L524.73 220.39L524.93 221.23L525.13 220.94L525.33 221.94L525.53 222.33L525.73 222.07L525.93 221.55L526.13 220.99L526.33 220.70L526.53 221.31L526.73 221.36L526.93 222.16L527.14 221.64L527.34 221.93L527.54 221.82L527.74 222.34L527.94 222.11L528.14 222.83L528.34 222.79L528.54 222.41"/>
<path stroke="#4A0A8E" d="M65.90 461.66L66.10 461.73L66.30 462.23L66.50 462.00L66.70 461.32L66.90 460.30L67.11 460.17L67.31 460.57L67.51 460.58L67.71 459.54L67.91 458.29L68.11 458.38L68.31 458.52L68.51 457.89L68.71 456.94L68.91 456.10L69.11 456.13L69.31 455.98L69.52 456.11L69.72 456.50L69.92 456.61L70.12 456.60L70.32 456.47L70.52 456.70L70.72 456.50L70.92 456.38L71.12 455.79L71.32 456.24L71.52 455.45L71.72 455.07L71.93 454.23L72.13 453.50L72.33 451.88L72.53 450.30L72.73 448.40L72.93 446.50L73.13 444.80L73.33 442.81L73.53 441.72L73.73 440.05L73.93 438.13L74.13 436.56L74.34 435.14L74.54 435.60L74.74 435.83L74.94 436.36L75.14 437.53L75.34 438.99L75.54 441.75L75.74 443.24L75.94 445.39L76.14 446.38L76.34 448.24L76.54 449.09L76.75 451.17L76.95 452.48L77.15 454.43L77.35 454.80L77.55 455.39L77.75 455.27L77.95 455.35L78.15 455.45L78.35 455.99L78.55 456.38L78.75 456.74L78.95 456.52L79.16 457.10L79.36 457.13L79.56 457.29L79.76 457.36L79.96 457.72L80.16 457.71L80.36 458.17L80.56 457.92L80.76 458.04L80.96 457.51L81.16 458.52L81.36 459.04L81.57 459.37L81.77 458.87L81.97 459.37L82.17 459.56L82.37 459.73L82.57 460.02L82.77 460.15L82.97 460.60L83.17 460.51L83.37 460.89L83.57 461.10L83.77 461.69L83.98 461.78L84.18 461.48L84.38 460.50L84.58 460.77L84.78 461.30L84.98 462.24L85.18 462.37L85.38 462.54L85.58 462.42L85.78 462.61L85.98 463.05L86.19 463.38L86.39 463.81L86.59 463.64L86.79 463.09L86.99 461.67L87.19 460.77L87.39 459.88L87.59 459.25L87.79 458.12L87.99 457.16L88.19 456.43L88.39 455.88L88.60 455.54L88.80 455.78L89.00 456.37L89.20 456.61L89.40 456.75L89.60 457.04L89.80 456.74L90.00 456.69L90.20 455.95L90.40 456.01L90.60 455.58L90.80 455.68L91.01 456.21L91.21 456.41L91.41 456.47L91.61 456.61L91.81 456.93L92.01 457.24L92.21 457.19L92.41 457.29L92.61 457.65L92.81 457.75L93.01 457.66L93.21 457.30L93.42 456.81L93.62 456.68L93.82 456.74L94.02 457.31L94.22 457.98L94.42 457.73L94.62 457.02L94.82 457.18L95.02 457.57L95.22 457.72L95.42 457.54L95.62 457.19L95.83 456.95L96.03 456.35L96.23 456.18L96.43 457.37L96.63 457.26L96.83 457.37L97.03 456.74L97.23 456.90L97.43 456.69L97.63 456.88L97.83 457.40L98.03 457.94L98.24 457.56L98.44 456.81L98.64 456.66L98.84 456.75L99.04 456.95L99.24 456.34L99.44 457.28L99.64 457.83L99.84 458.09L100.04 457.75L100.24 457.91L100.44 457.44L100.65 456.96L100.85 456.38L101.05 457.45L101.25 457.62L101.45 457.70L101.65 457.47L101.85 458.18L102.05 459.02L102.25 458.88L102.45 457.94L102.65 458.14L102.85 458.01L103.06 458.15L103.26 457.25L103.46 457.78L103.66 458.35L103.86 458.49L104.06 458.05L104.26 457.89L104.46 457.86L104.66 458.83L104.86 458.67L105.06 458.14L105.27 457.13L105.47 457.65L105.67 457.93L105.87 457.57L106.07 456.88L106.27 457.08L106.47 458.22L106.67 458.08L106.87 458.32L107.07 458.19L107.27 458.31L107.47 458.02L107.68 458.36L107.88 459.21L108.08 459.58L108.28 459.09L108.48 458.90L108.68 458.56L108.88 458.42L109.08 457.74L109.28 457.80L109.48 457.81L109.68 459.07L109.88 459.01L110.09 459.49L110.29 459.00L110.49 459.01L110.69 458.99L110.89 457.79L111.09 457.90L111.29 457.81L111.49 457.74L111.69 457.32L111.89 457.40L112.09 458.15L112.29 458.19L112.50 457.71L112.70 457.62L112.90 458.26L113.10 458.56L113.30 458.66L113.50 458.19L113.70 458.03L113.90 458.60L114.10 458.96L114.30 459.21L114.50 458.71L114.70 458.16L114.91 457.70L115.11 458.00L115.31 458.50L115.51 458.45L115.71 457.69L115.91 457.71L116.11 457.92L116.31 458.38L116.51 458.25L116.71 458.49L116.91 458.73L117.11 459.19L117.32 459.44L117.52 459.82L117.72 459.78L117.92 459.36L118.12 458.91L118.32 458.82L118.52 458.85L118.72 459.08L118.92 459.32L119.12 459.17L119.32 458.39L119.52 458.43L119.73 458.73L119.93 459.60L120.13 458.74L120.33 459.33L120.53 459.34L120.73 459.76L120.93 459.04L121.13 458.82L121.33 458.81L121.53 458.83L121.73 458.41L121.93 458.90L122.14 458.98L122.34 459.40L122.54 458.99L122.74 458.19L122.94 458.35L123.14 458.20L123.34 458.91L123.54 458.76L123.74 458.53L123.94 458.93L124.14 458.66L124.35 458.68L124.55 458.09L124.75 458.39L124.95 458.96L125.15 459.06L125.35 458.50L125.55 458.62L125.75 458.47L125.95 459.41L126.15 459.04L126.35 459.18L126.55 458.56L126.76 458.75L126.96 459.31L127.16 459.47L127.36 459.65L127.56 460.07L127.76 460.08L127.96 459.37L128.16 458.30L128.36 457.90L128.56 458.09L128.76 458.21L128.96 458.25L129.17 458.67L129.37 458.02L129.57 458.04L129.77 458.56L129.97 459.84L130.17 460.47L130.37 459.93L130.57 460.18L130.77 460.18L130.97 460.04L131.17 459.00L131.37 458.79L131.58 458.50L131.78 458.68L131.98 458.45L132.18 458.69L132.38 458.81L132.58 459.35L132.78 458.91L132.98 458.96L133.18 459.30L133.38 459.76L133.58 460.23L133.78 459.98L133.99 460.41L134.19 460.25L134.39 459.38L134.59 458.83L134.79 458.43L134.99 458.37L135.19 458.28L135.39 457.96L135.59 457.89L135.79 458.10L135.99 458.49L136.19 458.81L136.40 458.38L136.60 458.18L136.80 458.26L137.00 458.42L137.20 458.57L137.40 458.53L137.60 458.78L137.80 458.95L138.00 459.20L138.20 458.81L138.40 458.40L138.60 458.40L138.81 458.54L139.01 458.71L139.21 457.67L139.41 456.78L139.61 456.89L139.81 457.84L140.01 459.23L140.21 459.35L140.41 459.29L140.61 458.80L140.81 458.04L141.01 458.25L141.22 458.02L141.42 458.67L141.62 458.42L141.82 458.71L142.02 458.82L142.22 458.57L142.42 458.33L142.62 457.70L142.82 457.73L143.02 458.42L143.22 458.57L143.43 459.10L143.63 458.79L143.83 459.15L144.03 459.00L144.23 458.35L144.43 458.21L144.63 458.46L144.83 458.56L145.03 458.39L145.23 457.58L145.43 457.90L145.63 457.52L145.84 458.29L146.04 458.02L146.24 457.84L146.44 457.87L146.64 458.31L146.84 459.00L147.04 458.53L147.24 458.05L147.44 457.77L147.64 457.81L147.84 458.22L148.04 458.59L148.25 458.39L148.45 457.88L148.65 457.47L148.85 457.75L149.05 458.38L149.25 458.31L149.45 457.73L149.65 457.64L149.85 457.98L150.05 458.36L150.25 457.45L150.45 457.04L150.66 456.60L150.86 457.09L151.06 456.61L151.26 457.20L151.46 457.21L151.66 457.91L151.86 457.04L152.06 456.92L152.26 457.25L152.46 457.14L152.66 457.28L152.86 457.08L153.07 457.41L153.27 457.61L153.47 457.28L153.67 457.97L153.87 457.89L154.07 458.11L154.27 458.40L154.47 458.53L154.67 458.93L154.87 457.85L155.07 457.36L155.27 457.22L155.48 457.97L155.68 458.20L155.88 458.20L156.08 457.53L156.28 457.59L156.48 456.90L156.68 457.36L156.88 457.09L157.08 457.24L157.28 457.11L157.48 457.88L157.68 457.73L157.89 457.47L158.09 457.19L158.29 457.36L158.49 458.15L158.69 457.83L158.89 457.99L159.09 457.47L159.29 457.97L159.49 458.14L159.69 458.16L159.89 457.62L160.09 456.86L160.30 456.43L160.50 456.90L160.70 457.77L160.90 458.30L161.10 458.06L161.30 457.63L161.50 457.62L161.70 457.14L161.90 457.51L162.10 457.20L162.30 457.48L162.51 457.55L162.71 457.73L162.91 458.08L163.11 458.12L163.31 458.41L163.51 458.69L163.71 458.07L163.91 457.44L164.11 457.22L164.31 458.05L164.51 459.29L164.71 459.33L164.92 459.29L165.12 458.29L165.32 458.28L165.52 458.23L165.72 458.16L165.92 457.59L166.12 457.31L166.32 457.78L166.52 457.06L166.72 457.12L166.92 457.10L167.12 458.05L167.33 458.11L167.53 458.19L167.73 457.89L167.93 457.94L168.13 457.66L168.33 457.62L168.53 457.50L168.73 458.04L168.93 457.81L169.13 457.11L169.33 455.97L169.53 457.10L169.74 457.52L169.94 458.02L170.14 457.11L170.34 456.96L170.54 456.38L170.74 456.80L170.94 457.31L171.14 457.42L171.34 457.09L171.54 456.83L171.74 457.60L171.94 458.14L172.15 458.87L172.35 459.44L172.55 459.82L172.75 459.98L172.95 459.19L173.15 458.63L173.35 458.52L173.55 458.99L173.75 459.15L173.95 458.03L174.15 457.25L174.35 457.45L174.56 458.21L174.76 458.71L174.96 458.27L175.16 457.51L175.36 457.70L175.56 458.15L175.76 459.27L175.96 459.11L176.16 458.64L176.36 457.64L176.56 457.99L176.76 458.60L176.97 458.71L177.17 458.33L177.37 457.70L177.57 457.64L177.77 456.61L177.97 456.38L178.17 456.71L178.37 456.99L178.57 456.75L178.77 455.32L178.97 456.17L179.17 456.53L179.38 457.58L179.58 456.94L179.78 456.43L179.98 456.27L180.18 456.16L180.38 456.20L180.58 456.11L180.78 456.14L180.98 456.63L181.18 455.99L181.38 455.87L181.59 454.94L181.79 454.83L181.99 453.69L182.19 453.84L182.39 453.58L182.59 453.78L182.79 453.30L182.99 452.75L183.19 452.39L183.39 451.38L183.59 450.93L183.79 449.76L184.00 447.35L184.20 444.38L184.40 439.78L184.60 434.36L184.80 426.37L185.00 417.02L185.20 404.89L185.40 391.73L185.60 377.66L185.80 364.23L186.00 353.50L186.20 346.18L186.41 346.06L186.61 351.34L186.81 362.40L187.01 375.55L187.21 389.74L187.41 403.34L187.61 415.24L187.81 425.52L188.01 433.81L188.21 439.42L188.41 443.69L188.61 446.29L188.82 449.04L189.02 451.10L189.22 452.50L189.42 453.26L189.62 452.94L189.82 451.92L190.02 451.76L190.22 450.46L190.42 449.56L190.62 447.15L190.82 445.88L191.02 446.12L191.23 447.90L191.43 450.47L191.63 452.09L191.83 453.71L192.03 454.65L192.23 454.83L192.43 455.67L192.63 455.31L192.83 455.45L193.03 455.35L193.23 456.35L193.43 456.55L193.64 455.75L193.84 456.06L194.04 456.28L194.24 455.74L194.44 454.36L194.64 454.90L194.84 455.68L195.04 455.99L195.24 455.53L195.44 455.32L195.64 454.69L195.84 453.41L196.05 452.97L196.25 452.27L196.45 452.27L196.65 452.06L196.85 451.76L197.05 450.61L197.25 448.36L197.45 446.03L197.65 442.88L197.85 437.53L198.05 430.66L198.25 422.10L198.46 411.72L198.66 398.19L198.86 382.70L199.06 366.84L199.26 353.70L199.46 345.67L199.66 344.16L199.86 349.20L200.06 359.28L200.26 373.31L200.46 388.44L200.67 402.56L200.87 414.58L201.07 424.87L201.27 433.30L201.47 439.11L201.67 442.79L201.87 445.48L202.07 447.07L202.27 448.33L202.47 448.64L202.67 449.78L202.87 450.27L203.08 450.35L203.28 450.54L203.48 450.27L203.68 449.95L203.88 449.04L204.08 449.53L204.28 449.28L204.48 449.80L204.68 449.35L204.88 449.71L205.08 448.85L205.28 447.64L205.49 446.40L205.69 445.01L205.89 443.16L206.09 441.48L206.29 438.62L206.49 436.03L206.69 430.91L206.89 424.67L207.09 415.95L207.29 405.77L207.49 392.65L207.69 376.96L207.90 358.76L208.10 340.26L208.30 321.16L208.50 303.19L208.70 288.18L208.90 279.41L209.10 279.48L209.30 288.00L209.50 302.57L209.70 319.90L209.90 339.32L210.10 358.55L210.31 376.73L210.51 392.58L210.71 405.82L210.91 416.08L211.11 423.64L211.31 430.43L211.51 435.89L211.71 440.36L211.91 442.75L212.11 444.57L212.31 446.11L212.51 448.08L212.72 449.66L212.92 450.11L213.12 450.26L213.32 450.66L213.52 451.71L213.72 452.70L213.92 454.03L214.12 454.48L214.32 454.38L214.52 454.08L214.72 454.34L214.92 454.64L215.13 454.89L215.33 455.13L215.53 455.10L215.73 455.50L215.93 455.57L216.13 455.82L216.33 455.97L216.53 456.08L216.73 457.17L216.93 457.31L217.13 457.63L217.33 456.89L217.54 456.70L217.74 457.08L217.94 457.20L218.14 457.70L218.34 456.78L218.54 457.17L218.74 457.28L218.94 458.20L219.14 458.23L219.34 458.40L219.54 458.09L219.75 457.85L219.95 457.64L220.15 458.44L220.35 459.02L220.55 459.01L220.75 458.79L220.95 458.88L221.15 458.60L221.35 457.61L221.55 457.18L221.75 457.18L221.95 458.03L222.16 458.04L222.36 458.34L222.56 458.76L222.76 459.29L222.96 459.65L223.16 460.12L223.36 459.97L223.56 459.89L223.76 459.79L223.96 459.60L224.16 459.21L224.36 459.26L224.57 459.79L224.77 460.60L224.97 460.40L225.17 460.63L225.37 460.29L225.57 460.08L225.77 459.42L225.97 459.66L226.17 459.80L226.37 460.06L226.57 460.27L226.77 461.24L226.98 461.03L227.18 461.11L227.38 460.45L227.58 461.24L227.78 460.71L227.98 460.82L228.18 460.71L228.38 460.97L228.58 460.47L228.78 460.36L228.98 460.75L229.18 461.21L229.39 461.95L229.59 461.54L229.79 461.49L229.99 460.58L230.19 461.01L230.39 460.87L230.59 460.85L230.79 460.15L230.99 459.87L231.19 460.19L231.39 461.19L231.59 461.76L231.80 461.29L232.00 460.64L232.20 460.41L232.40 460.81L232.60 461.02L232.80 461.29L233.00 461.43L233.20 461.21L233.40 460.32L233.60 460.17L233.80 459.88L234.00 460.53L234.21 460.81L234.41 460.97L234.61 461.02L234.81 460.83L235.01 461.99L235.21 462.24L235.41 461.75L235.61 461.29L235.81 461.33L236.01 461.95L236.21 461.72L236.41 461.83L236.62 462.18L236.82 462.51L237.02 462.00L237.22 461.63L237.42 460.89L237.62 460.66L237.82 460.50L238.02 460.63L238.22 460.95L238.42 461.95L238.62 462.43L238.83 462.21L239.03 460.56L239.23 460.04L239.43 459.80L239.63 459.74L239.83 460.22L240.03 460.50L240.23 461.36L240.43 462.13L240.63 462.34L240.83 462.18L241.03 461.19L241.24 461.00L241.44 460.68L241.64 460.49L241.84 460.97L242.04 461.17L242.24 460.77L242.44 459.95L242.64 459.69L242.84 460.17L243.04 460.77L243.24 461.29L243.44 461.71L243.65 461.47L243.85 461.60L244.05 461.31L244.25 461.63L244.45 460.72L244.65 461.04L244.85 460.27L245.05 460.52L245.25 460.34L245.45 460.72L245.65 461.70L245.85 461.47L246.06 461.23L246.26 460.65L246.46 460.44L246.66 461.31L246.86 461.79L247.06 462.16L247.26 461.46L247.46 460.91L247.66 460.99L247.86 460.83L248.06 460.50L248.26 460.41L248.47 460.92L248.67 461.09L248.87 460.67L249.07 459.72L249.27 460.18L249.47 460.21L249.67 460.37L249.87 459.54L250.07 459.25L250.27 460.31L250.47 460.91L250.67 460.73L250.88 460.76L251.08 460.95L251.28 461.03L251.48 459.44L251.68 459.28L251.88 459.42L252.08 460.26L252.28 459.72L252.48 460.34L252.68 460.87L252.88 461.30L253.08 460.78L253.29 460.34L253.49 460.24L253.69 459.72L253.89 460.03L254.09 459.68L254.29 460.28L254.49 459.87L254.69 460.27L254.89 460.52L255.09 461.20L255.29 460.74L255.49 460.03L255.70 459.28L255.90 459.15L256.10 459.73L256.30 459.37L256.50 459.61L256.70 459.61L256.90 460.20L257.10 460.19L257.30 460.32L257.50 460.38L257.70 459.69L257.91 459.28L258.11 458.86L258.31 459.31L258.51 458.92L258.71 458.83L258.91 459.02L259.11 459.29L259.31 459.70L259.51 459.86L259.71 459.51L259.91 458.71L260.11 458.60L260.32 458.50L260.52 458.75L260.72 458.55L260.92 459.06L261.12 459.11L261.32 459.38L261.52 458.78L261.72 458.72L261.92 457.86L262.12 457.91L262.32 457.48L262.52 457.07L262.73 455.68L262.93 455.41L263.13 455.13L263.33 455.15L263.53 453.43L263.73 451.78L263.93 450.23L264.13 448.57L264.33 446.98L264.53 444.63L264.73 442.07L264.93 439.75L265.14 437.66L265.34 436.71L265.54 435.25L265.74 435.53L265.94 436.59L266.14 438.57L266.34 440.68L266.54 442.92L266.74 445.46L266.94 448.30L267.14 450.06L267.34 451.80L267.55 452.70L267.75 453.43L267.95 454.05L268.15 455.15L268.35 456.39L268.55 457.92L268.75 458.11L268.95 458.46L269.15 458.57L269.35 458.88L269.55 459.64L269.75 459.04L269.96 459.19L270.16 458.99L270.36 459.66L270.56 460.01L270.76 460.23L270.96 460.15L271.16 459.65L271.36 459.72L271.56 459.81L271.76 460.42L271.96 460.63L272.16 460.76L272.37 460.20L272.57 459.72L272.77 459.99L272.97 460.29L273.17 460.86L273.37 460.67L273.57 460.87L273.77 460.31L273.97 460.33L274.17 460.72L274.37 460.88L274.57 460.86L274.78 460.27L274.98 460.71L275.18 460.36L275.38 460.46L275.58 460.56L275.78 461.63L275.98 461.83L276.18 461.90L276.38 460.78L276.58 461.17L276.78 460.99L276.99 461.31L277.19 460.48L277.39 460.26L277.59 460.83L277.79 461.62L277.99 461.89L278.19 462.09L278.39 462.24L278.59 461.75L278.79 461.38L278.99 460.98L279.19 461.84L279.40 461.83L279.60 462.38L279.80 462.09L280.00 463.09L280.20 462.76L280.40 462.75L280.60 461.93L280.80 462.02L281.00 462.89L281.20 462.78L281.40 462.45L281.60 461.57L281.81 462.00L282.01 461.99L282.21 462.30L282.41 462.31L282.61 462.57L282.81 462.18L283.01 461.62L283.21 461.56L283.41 461.34L283.61 462.02L283.81 462.65L284.01 462.80L284.22 462.33L284.42 461.09L284.62 460.98L284.82 461.08L285.02 461.81L285.22 462.00L285.42 462.15L285.62 462.06L285.82 461.86L286.02 462.10L286.22 461.41L286.42 461.14L286.63 460.33L286.83 460.74L287.03 460.87L287.23 461.04L287.43 461.04L287.63 461.29L287.83 461.57L288.03 461.82L288.23 461.88L288.43 461.35L288.63 460.95L288.83 460.80L289.04 461.44L289.24 461.96L289.44 462.43L289.64 462.45L289.84 462.71L290.04 462.05L290.24 462.11L290.44 461.95L290.64 462.92L290.84 462.67L291.04 462.49L291.24 461.70L291.45 461.53L291.65 460.82L291.85 460.76L292.05 460.66L292.25 461.54L292.45 461.37L292.65 461.40L292.85 461.66L293.05 461.68L293.25 461.89L293.45 461.05L293.65 461.17L293.86 461.01L294.06 461.48L294.26 461.37L294.46 460.88L294.66 461.12L294.86 461.37L295.06 462.01L295.26 461.83L295.46 462.04L295.66 461.70L295.86 461.36L296.07 460.59L296.27 460.76L296.47 460.66L296.67 461.20L296.87 461.80L297.07 462.21L297.27 462.26L297.47 461.17L297.67 461.20L297.87 461.72L298.07 461.90L298.27 461.76L298.48 461.03L298.68 461.22L298.88 460.92L299.08 460.51L299.28 460.35L299.48 459.88L299.68 460.86L299.88 461.35L300.08 461.88L300.28 461.46L300.48 461.08L300.68 461.09L300.89 461.02L301.09 460.87L301.29 460.70L301.49 460.13L301.69 459.82L301.89 459.62L302.09 460.09L302.29 460.24L302.49 461.03L302.69 460.83L302.89 460.76L303.09 460.19L303.30 460.53L303.50 461.20L303.70 461.30L303.90 460.66L304.10 459.89L304.30 459.82L304.50 460.00L304.70 460.23L304.90 459.73L305.10 460.07L305.30 460.17L305.50 460.46L305.71 459.83L305.91 458.64L306.11 457.63L306.31 457.50L306.51 458.04L306.71 457.26L306.91 456.68L307.11 456.47L307.31 457.32L307.51 456.72L307.71 455.81L307.91 454.54L308.12 453.42L308.32 452.04L308.52 450.49L308.72 448.00L308.92 444.41L309.12 440.17L309.32 435.92L309.52 432.25L309.72 428.50L309.92 423.99L310.12 418.83L310.32 413.21L310.53 409.06L310.73 406.12L310.93 405.08L311.13 405.43L311.33 406.58L311.53 409.37L311.73 413.61L311.93 418.87L312.13 424.40L312.33 429.28L312.53 434.04L312.73 438.28L312.94 442.36L313.14 445.62L313.34 448.05L313.54 449.93L313.74 451.94L313.94 453.41L314.14 454.24L314.34 454.42L314.54 455.22L314.74 456.22L314.94 457.36L315.15 457.46L315.35 457.98L315.55 457.66L315.75 457.86L315.95 457.35L316.15 457.78L316.35 458.34L316.55 458.64L316.75 458.39L316.95 457.62L317.15 457.76L317.35 457.89L317.56 458.41L317.76 458.21L317.96 458.09L318.16 458.07L318.36 458.48L318.56 459.14L318.76 459.32L318.96 459.32L319.16 458.97L319.36 458.96L319.56 458.43L319.76 458.82L319.97 459.09L320.17 460.08L320.37 459.63L320.57 459.52L320.77 458.76L320.97 459.10L321.17 459.05L321.37 459.63L321.57 459.54L321.77 459.84L321.97 459.49L322.17 459.78L322.38 459.50L322.58 459.55L322.78 459.42L322.98 459.68L323.18 459.39L323.38 458.88L323.58 458.86L323.78 459.34L323.98 459.20L324.18 458.60L324.38 458.39L324.58 459.21L324.79 459.88L324.99 460.51L325.19 460.82L325.39 461.57L325.59 460.78L325.79 460.41L325.99 460.00L326.19 460.09L326.39 459.66L326.59 459.39L326.79 460.20L326.99 461.12L327.20 460.49L327.40 459.74L327.60 459.31L327.80 459.75L328.00 460.29L328.20 460.30L328.40 461.00L328.60 460.80L328.80 460.75L329.00 460.12L329.20 460.44L329.40 459.93L329.61 459.97L329.81 459.27L330.01 459.09L330.21 459.29L330.41 459.65L330.61 460.52L330.81 460.14L331.01 460.11L331.21 459.68L331.41 459.78L331.61 459.41L331.81 459.93L332.02 459.43L332.22 460.13L332.42 459.48L332.62 460.06L332.82 459.52L333.02 459.72L333.22 459.91L333.42 459.90L333.62 459.41L333.82 458.97L334.02 459.12L334.23 458.59L334.43 458.82L334.63 458.95L334.83 459.15L335.03 458.75L335.23 458.62L335.43 458.80L335.63 458.67L335.83 458.24L336.03 458.78L336.23 459.25L336.43 459.30L336.64 459.07L336.84 458.94L337.04 459.06L337.24 458.92L337.44 458.96L337.64 458.20L337.84 458.16L338.04 457.43L338.24 457.57L338.44 457.39L338.64 457.30L338.84 458.00L339.05 457.76L339.25 457.38L339.45 456.46L339.65 455.77L339.85 453.96L340.05 452.11L340.25 450.36L340.45 448.74L340.65 446.36L340.85 443.09L341.05 440.16L341.25 435.88L341.46 431.51L341.66 427.22L341.86 423.99L342.06 421.64L342.26 418.99L342.46 416.97L342.66 416.44L342.86 417.51L343.06 420.55L343.26 423.30L343.46 426.30L343.66 429.36L343.87 433.03L344.07 437.01L344.27 440.50L344.47 443.70L344.67 446.78L344.87 449.14L345.07 451.40L345.27 453.17L345.47 454.63L345.67 455.52L345.87 455.49L346.07 455.44L346.28 455.53L346.48 456.62L346.68 456.97L346.88 457.36L347.08 457.56L347.28 458.90L347.48 459.27L347.68 459.13L347.88 458.93L348.08 459.01L348.28 459.18L348.48 459.27L348.69 458.95L348.89 459.19L349.09 458.89L349.29 459.57L349.49 459.16L349.69 458.74L349.89 458.34L350.09 458.67L350.29 459.16L350.49 459.19L350.69 459.45L350.89 459.70L351.10 459.92L351.30 459.43L351.50 459.61L351.70 459.02L351.90 459.32L352.10 459.24L352.30 459.57L352.50 460.09L352.70 460.44L352.90 461.20L353.10 460.93L353.31 460.65L353.51 459.96L353.71 459.99L353.91 459.84L354.11 460.08L354.31 460.02L354.51 459.82L354.71 459.14L354.91 459.25L355.11 459.45L355.31 460.85L355.51 460.97L355.72 460.91L355.92 460.51L356.12 460.47L356.32 460.41L356.52 459.94L356.72 459.18L356.92 459.17L357.12 459.77L357.32 459.52L357.52 458.99L357.72 458.46L357.92 458.85L358.13 458.87L358.33 457.37L358.53 456.33L358.73 455.40L358.93 455.13L359.13 454.19L359.33 452.43L359.53 451.20L359.73 449.67L359.93 448.99L360.13 448.22L360.33 449.45L360.54 450.39L360.74 451.86L360.94 451.80L361.14 453.52L361.34 454.79L361.54 455.95L361.74 455.81L361.94 456.84L362.14 457.52L362.34 459.00L362.54 458.45L362.74 458.00L362.95 457.76L363.15 458.04L363.35 459.04L363.55 458.35L363.75 457.92L363.95 457.77L364.15 457.36L364.35 456.36L364.55 455.84L364.75 455.26L364.95 455.55L365.15 454.01L365.36 452.74L365.56 450.56L365.76 447.89L365.96 446.02L366.16 443.07L366.36 440.58L366.56 437.10L366.76 433.49L366.96 429.85L367.16 425.48L367.36 422.00L367.56 418.66L367.77 416.72L367.97 415.32L368.17 415.65L368.37 416.55L368.57 419.64L368.77 422.10L368.97 426.23L369.17 429.93L369.37 434.73L369.57 438.37L369.77 442.08L369.97 445.67L370.18 448.01L370.38 448.99L370.58 449.56L370.78 450.74L370.98 452.21L371.18 453.08L371.38 453.90L371.58 453.65L371.78 453.23L371.98 452.19L372.18 451.10L372.39 449.87L372.59 449.50L372.79 448.40L372.99 446.81L373.19 443.85L373.39 443.19L373.59 442.70L373.79 442.94L373.99 443.61L374.19 444.86L374.39 445.54L374.59 445.91L374.80 447.27L375.00 449.73L375.20 451.04L375.40 452.81L375.60 454.52L375.80 455.73L376.00 455.55L376.20 455.30L376.40 456.62L376.60 458.17L376.80 459.16L377.00 459.07L377.21 458.93L377.41 459.26L377.61 459.20L377.81 458.77L378.01 458.64L378.21 459.66L378.41 460.46L378.61 460.70L378.81 460.18L379.01 460.56L379.21 460.03L379.41 460.36L379.62 459.96L379.82 460.61L380.02 460.43L380.22 461.01L380.42 461.14L380.62 461.37L380.82 461.39L381.02 461.50L381.22 461.57L381.42 461.23L381.62 461.56L381.82 461.45L382.03 461.62L382.23 461.29L382.43 461.76L382.63 461.81L382.83 462.68L383.03 462.00L383.23 462.31L383.43 461.59L383.63 462.61L383.83 461.87L384.03 462.34L384.23 461.51L384.44 462.34L384.64 462.13L384.84 462.65L385.04 462.19L385.24 461.76L385.44 461.81L385.64 461.84L385.84 461.48L386.04 460.82L386.24 461.25L386.44 462.10L386.64 462.79L386.85 462.42L387.05 462.16L387.25 462.04L387.45 462.01L387.65 461.49L387.85 460.96L388.05 460.36L388.25 460.58L388.45 460.38L388.65 460.61L388.85 460.90L389.05 461.01L389.26 461.29L389.46 461.26L389.66 460.58L389.86 459.55L390.06 458.98L390.26 459.17L390.46 459.65L390.66 459.54L390.86 459.41L391.06 459.31L391.26 459.47L391.47 459.78L391.67 459.41L391.87 459.07L392.07 458.86L392.27 460.00L392.47 460.29L392.67 460.54L392.87 460.32L393.07 460.87L393.27 461.28L393.47 461.61L393.67 461.65L393.88 462.24L394.08 462.74L394.28 463.04L394.48 462.83L394.68 462.84L394.88 462.64L395.08 463.37L395.28 463.56L395.48 464.15L395.68 462.93L395.88 463.60L396.08 463.98L396.29 465.22L396.49 464.41L396.69 464.11L396.89 464.63L397.09 464.31L397.29 464.31L397.49 463.50L397.69 463.75L397.89 463.58L398.09 463.00L398.29 463.14L398.49 462.54L398.70 463.48L398.90 463.50L399.10 463.62L399.30 462.23L399.50 461.96L399.70 462.39L399.90 462.74L400.10 463.25L400.30 463.13L400.50 463.29L400.70 462.19L400.90 462.02L401.11 462.09L401.31 462.78L401.51 463.17L401.71 463.24L401.91 463.15L402.11 463.27L402.31 463.46L402.51 463.19L402.71 462.90L402.91 462.49L403.11 462.72L403.31 462.51L403.52 462.29L403.72 462.33L403.92 462.32L404.12 462.94L404.32 462.26L404.52 462.59L404.72 462.72L404.92 463.04L405.12 462.61L405.32 462.21L405.52 462.31L405.72 462.61L405.93 462.33L406.13 461.92L406.33 461.53L406.53 462.42L406.73 462.66L406.93 462.38L407.13 461.37L407.33 461.51L407.53 462.21L407.73 462.22L407.93 462.17L408.13 461.78L408.34 462.15L408.54 462.09L408.74 462.33L408.94 462.35L409.14 462.04L409.34 462.46L409.54 461.70L409.74 461.41L409.94 460.88L410.14 461.37L410.34 461.68L410.55 461.35L410.75 461.47L410.95 461.36L411.15 460.86L411.35 459.99L411.55 459.57L411.75 459.25L411.95 459.74L412.15 459.86L412.35 460.06L412.55 459.20L412.75 459.18L412.96 458.17L413.16 458.25L413.36 457.84L413.56 457.90L413.76 457.10L413.96 456.76L414.16 456.98L414.36 457.42L414.56 457.64L414.76 457.90L414.96 458.56L415.16 459.67L415.37 460.31L415.57 461.05L415.77 460.34L415.97 460.87L416.17 460.81L416.37 461.46L416.57 462.04L416.77 463.23L416.97 463.59L417.17 463.85L417.37 463.25L417.57 463.57L417.78 462.99L417.98 462.65L418.18 462.35L418.38 462.27L418.58 462.53L418.78 462.26L418.98 462.56L419.18 462.65L419.38 463.66L419.58 464.28L419.78 464.42L419.98 463.65L420.19 463.29L420.39 463.42L420.59 463.55L420.79 463.07L420.99 462.20L421.19 462.28L421.39 463.26L421.59 463.83L421.79 464.01L421.99 463.49L422.19 463.76L422.39 463.92L422.60 463.13L422.80 462.93L423.00 462.82L423.20 463.51L423.40 464.01L423.60 463.77L423.80 464.15L424.00 464.36L424.20 464.43L424.40 464.15L424.60 463.47L424.80 463.84L425.01 463.12L425.21 462.68L425.41 462.27L425.61 463.27L425.81 463.94L426.01 463.72L426.21 463.94L426.41 463.73L426.61 463.76L426.81 463.35L427.01 463.72L427.21 463.88L427.42 463.13L427.62 462.45L427.82 462.47L428.02 463.28L428.22 463.08L428.42 463.10L428.62 462.33L428.82 462.66L429.02 462.07L429.22 462.28L429.42 461.68L429.63 461.77L429.83 461.34L430.03 461.14L430.23 461.84L430.43 462.74L430.63 463.53L430.83 462.92L431.03 462.96L431.23 462.64L431.43 462.85L431.63 462.68L431.83 462.79L432.04 463.10L432.24 462.60L432.44 462.41L432.64 461.88L432.84 461.47L433.04 461.10L433.24 461.26L433.44 461.00L433.64 461.71L433.84 461.47L434.04 462.42L434.24 462.24L434.45 462.29L434.65 462.42L434.85 462.07L435.05 461.81L435.25 461.70L435.45 461.60L435.65 462.13L435.85 462.07L436.05 462.23L436.25 461.50L436.45 460.66L436.65 461.58L436.86 461.61L437.06 461.99L437.26 461.74L437.46 462.52L437.66 463.11L437.86 462.94L438.06 462.71L438.26 462.39L438.46 462.17L438.66 462.59L438.86 463.34L439.06 464.07L439.27 463.92L439.47 462.84L439.67 462.67L439.87 462.70L440.07 462.61L440.27 462.98L440.47 463.18L440.67 464.16L440.87 463.81L441.07 463.81L441.27 463.90L441.47 463.85L441.68 463.80L441.88 463.89L442.08 463.95L442.28 464.76L442.48 464.60L442.68 464.28L442.88 463.22L443.08 463.29L443.28 463.49L443.48 463.76L443.68 463.54L443.88 463.42L444.09 463.58L444.29 464.10L444.49 464.26L444.69 463.94L444.89 463.05L445.09 462.51L445.29 462.54L445.49 462.83L445.69 463.18L445.89 462.76L446.09 462.79L446.29 462.15L446.50 462.12L446.70 461.89L446.90 462.77L447.10 462.97L447.30 462.92L447.50 462.81L447.70 462.99L447.90 463.63L448.10 463.65L448.30 463.76L448.50 463.38L448.71 463.50L448.91 463.17L449.11 462.71L449.31 462.79L449.51 462.88L449.71 463.43L449.91 463.34L450.11 463.85L450.31 462.84L450.51 462.26L450.71 462.34L450.91 462.75L451.12 463.26L451.32 462.68L451.52 462.93L451.72 462.69L451.92 462.20L452.12 462.62L452.32 463.04L452.52 463.10L452.72 462.70L452.92 462.68L453.12 463.27L453.32 463.36L453.53 463.41L453.73 462.67L453.93 462.66L454.13 462.16L454.33 462.60L454.53 462.95L454.73 462.30L454.93 462.40L455.13 461.86L455.33 462.89L455.53 463.26L455.73 463.31L455.94 462.54L456.14 462.19L456.34 462.18L456.54 462.39L456.74 462.59L456.94 462.76L457.14 463.61L457.34 463.52L457.54 463.53L457.74 462.54L457.94 462.37L458.14 462.96L458.35 463.57L458.55 464.27L458.75 464.38L458.95 464.41L459.15 463.69L459.35 463.21L459.55 463.06L459.75 462.75L459.95 462.93L460.15 462.57L460.35 463.13L460.55 462.86L460.76 463.44L460.96 464.40L461.16 464.19L461.36 464.00L461.56 463.82L461.76 463.93L461.96 463.88L462.16 463.16L462.36 463.61L462.56 463.14L462.76 463.31L462.96 463.43L463.17 464.88L463.37 464.75L463.57 464.34L463.77 463.50L463.97 462.62L464.17 462.94L464.37 463.44L464.57 464.33L464.77 464.20L464.97 463.58L465.17 463.64L465.37 463.22L465.58 463.84L465.78 463.63L465.98 463.91L466.18 463.95L466.38 464.12L466.58 464.13L466.78 464.13L466.98 464.19L467.18 464.60L467.38 463.75L467.58 463.01L467.79 462.67L467.99 463.29L468.19 463.67L468.39 463.66L468.59 463.35L468.79 463.52L468.99 463.35L469.19 463.30L469.39 463.21L469.59 462.92L469.79 462.95L469.99 463.08L470.20 463.47L470.40 463.43L470.60 462.31L470.80 462.35L471.00 462.19L471.20 462.49L471.40 463.19L471.60 463.38L471.80 463.99L472.00 463.22L472.20 463.26L472.40 463.48L472.61 462.68L472.81 462.08L473.01 461.88L473.21 462.28L473.41 462.36L473.61 461.47L473.81 460.67L474.01 460.13L474.21 459.92L474.41 459.85L474.61 459.07L474.81 458.99L475.02 458.36L475.22 458.27L475.42 457.49L475.62 456.62L475.82 455.41L476.02 454.83L476.22 454.31L476.42 453.63L476.62 452.85L476.82 452.75L477.02 453.83L477.22 454.88L477.43 455.66L477.63 455.69L477.83 455.97L478.03 455.75L478.23 456.20L478.43 457.40L478.63 458.47L478.83 459.55L479.03 460.49L479.23 461.59L479.43 461.66L479.63 461.37L479.84 460.56L480.04 461.33L480.24 460.46L480.44 460.52L480.64 459.98L480.84 461.45L481.04 461.28L481.24 462.11L481.44 461.91L481.64 462.69L481.84 462.70L482.04 463.25L482.25 463.33L482.45 462.98L482.65 462.59L482.85 462.81L483.05 462.54L483.25 462.16L483.45 462.02L483.65 462.06L483.85 461.69L484.05 461.40L484.25 461.41L484.45 461.95L484.66 462.32L484.86 462.00L485.06 461.70L485.26 461.68L485.46 462.02L485.66 462.10L485.86 462.18L486.06 462.09L486.26 462.12L486.46 461.22L486.66 462.11L486.87 461.99L487.07 462.34L487.27 461.47L487.47 461.18L487.67 462.16L487.87 462.41L488.07 462.67L488.27 461.96L488.47 461.60L488.67 461.94L488.87 461.08L489.07 461.79L489.28 461.14L489.48 461.91L489.68 461.58L489.88 462.01L490.08 461.44L490.28 461.43L490.48 460.99L490.68 461.25L490.88 460.73L491.08 460.91L491.28 460.91L491.48 461.23L491.69 460.94L491.89 459.86L492.09 459.15L492.29 458.96L492.49 459.12L492.69 458.34L492.89 456.96L493.09 457.75L493.29 457.80L493.49 458.44L493.69 457.40L493.89 458.21L494.10 459.06L494.30 459.26L494.50 459.43L494.70 458.91L494.90 459.09L495.10 459.14L495.30 459.75L495.50 461.11L495.70 462.06L495.90 462.23L496.10 461.39L496.30 461.36L496.51 461.55L496.71 462.31L496.91 461.86L497.11 461.99L497.31 462.87L497.51 463.99L497.71 464.68L497.91 464.20L498.11 463.36L498.31 462.73L498.51 462.36L498.71 462.46L498.92 462.16L499.12 461.62L499.32 461.70L499.52 461.51L499.72 461.93L499.92 461.30L500.12 461.49L500.32 461.19L500.52 461.33L500.72 461.13L500.92 460.14L501.12 458.93L501.33 458.20L501.53 458.65L501.73 458.37L501.93 457.59L502.13 457.34L502.33 456.62L502.53 456.29L502.73 454.96L502.93 454.88L503.13 454.47L503.33 454.61L503.53 454.53L503.74 454.49L503.94 453.40L504.14 453.49L504.34 453.36L504.54 453.87L504.74 453.76L504.94 453.69L505.14 453.50L505.34 453.24L505.54 452.80L505.74 452.56L505.95 452.01L506.15 452.67L506.35 452.83L506.55 453.44L506.75 453.56L506.95 454.50L507.15 454.38L507.35 454.83L507.55 455.25L507.75 455.94L507.95 456.73L508.15 458.70L508.36 460.16L508.56 461.36L508.76 460.87L508.96 461.74L509.16 461.81L509.36 461.84L509.56 461.01L509.76 461.28L509.96 461.67L510.16 462.51L510.36 462.53L510.56 462.23L510.77 462.33L510.97 462.06L511.17 461.82L511.37 461.35L511.57 461.31L511.77 461.05L511.97 461.73L512.17 462.05L512.37 462.80L512.57 462.64L512.77 461.73L512.97 461.81L513.18 461.98L513.38 462.79L513.58 463.06L513.78 462.77L513.98 463.29L514.18 463.12L514.38 463.42L514.58 463.10L514.78 462.68L514.98 461.96L515.18 461.75L515.38 461.48L515.59 461.57L515.79 461.54L515.99 461.49L516.19 461.26L516.39 460.38L516.59 460.29L516.79 461.20L516.99 461.72L517.19 462.33L517.39 460.89L517.59 459.75L517.79 458.90L518.00 459.85L518.20 461.01L518.40 460.62L518.60 459.38L518.80 458.79L519.00 459.16L519.20 459.52L519.40 459.11L519.60 458.26L519.80 457.74L520.00 457.00L520.20 457.37L520.41 456.81L520.61 455.83L520.81 455.44L521.01 455.77L521.21 456.88L521.41 456.85L521.61 456.40L521.81 456.94L522.01 457.40L522.21 458.44L522.41 458.89L522.61 459.56L522.82 459.20L523.02 459.63L523.22 459.85L523.42 460.53L523.62 460.87L523.82 461.75L524.02 462.32L524.22 462.61L524.42 461.95L524.62 462.24L524.82 462.65L525.03 463.34L525.23 463.02L525.43 462.44L525.63 462.96L525.83 463.12L526.03 462.96L526.23 461.99L526.43 462.61L526.63 463.45L526.83 464.17L527.03 464.56L527.23 464.07L527.44 464.48L527.64 463.45L527.84 463.39L528.04 463.29L528.24 464.08L528.44 464.80"/>
<path stroke="#D01070" d="M52.25 707.34L52.50 707.44L52.75 707.21L53.00 706.99L53.26 706.67L53.51 706.32L53.76 706.56L54.01 706.70L54.26 706.78L54.51 707.14L54.76 707.43L55.01 707.98L55.26 707.97L55.51 708.02L55.77 707.82L56.02 707.89L56.27 707.87L56.52 708.06L56.77 707.96L57.02 708.04L57.27 707.85L57.52 708.07L57.77 708.08L58.03 708.19L58.28 708.12L58.53 708.09L58.78 708.20L59.03 708.09L59.28 708.22L59.53 708.13L59.78 708.11L60.03 708.05L60.28 708.02L60.54 708.18L60.79 708.22L61.04 708.36L61.29 708.32L61.54 708.29L61.79 708.25L62.04 708.31L62.29 708.32L62.54 708.26L62.80 708.11L63.05 708.10L63.30 708.10L63.55 708.29L63.80 708.22L64.05 708.19L64.30 708.03L64.55 708.16L64.80 708.21L65.05 708.16L65.31 708.05L65.56 708.04L65.81 708.17L66.06 708.15L66.31 708.17L66.56 708.05L66.81 708.14L67.06 708.17L67.31 708.10L67.57 708.24L67.82 708.22L68.07 708.28L68.32 708.05L68.57 708.01L68.82 708.04L69.07 708.14L69.32 708.16L69.57 708.19L69.82 708.02L70.08 707.96L70.33 707.83L70.58 707.93L70.83 707.99L71.08 707.93L71.33 707.88L71.58 707.87L71.83 708.01L72.08 707.90L72.34 707.83L72.59 707.70L72.84 707.60L73.09 707.46L73.34 706.98L73.59 706.36L73.84 705.24L74.09 703.77L74.34 701.44L74.59 698.16L74.85 693.63L75.10 687.59L75.35 679.75L75.60 670.01L75.85 658.44L76.10 645.46L76.35 631.04L76.60 616.09L76.85 600.50L77.11 585.60L77.36 571.54L77.61 559.42L77.86 549.32L78.11 541.86L78.36 536.75L78.61 534.07L78.86 533.07L79.11 533.37L79.36 535.28L79.62 539.58L79.87 546.24L80.12 555.26L80.37 566.68L80.62 579.79L80.87 594.69L81.12 609.84L81.37 625.43L81.62 640.19L81.88 654.02L82.13 666.11L82.38 676.56L82.63 685.03L82.88 691.84L83.13 697.03L83.38 700.84L83.63 703.60L83.88 705.34L84.13 706.53L84.39 707.23L84.64 707.57L84.89 707.79L85.14 707.92L85.39 707.98L85.64 707.95L85.89 707.87L86.14 707.80L86.39 707.83L86.65 707.79L86.90 707.99L87.15 708.26L87.40 708.44L87.65 708.34L87.90 708.29L88.15 708.35L88.40 708.51L88.65 708.55L88.90 708.58L89.16 708.62L89.41 708.52L89.66 708.47L89.91 708.35L90.16 708.46L90.41 708.51L90.66 708.69L90.91 708.72L91.16 708.59L91.42 708.43L91.67 708.42L91.92 708.38L92.17 708.39L92.42 708.39L92.67 708.53L92.92 708.50L93.17 708.48L93.42 708.51L93.67 708.55L93.93 708.40L94.18 708.31L94.43 708.30L94.68 708.39L94.93 708.38L95.18 708.25L95.43 708.36L95.68 708.39L95.93 708.45L96.19 708.37L96.44 708.35L96.69 708.32L96.94 708.11L97.19 707.90L97.44 708.10L97.69 708.20L97.94 708.38L98.19 708.27L98.44 708.32L98.70 708.42L98.95 708.31L99.20 708.37L99.45 708.13L99.70 708.25L99.95 708.25L100.20 708.43L100.45 708.40L100.70 708.37L100.96 708.40L101.21 708.45L101.46 708.36L101.71 708.38L101.96 708.24L102.21 708.32L102.46 708.23L102.71 708.33L102.96 708.29L103.21 708.34L103.47 708.27L103.72 708.23L103.97 708.27L104.22 708.35L104.47 708.45L104.72 708.44L104.97 708.33L105.22 708.36L105.47 708.21L105.73 708.32L105.98 708.24L106.23 708.33L106.48 708.36L106.73 708.37L106.98 708.29L107.23 708.30L107.48 708.38L107.73 708.50L107.98 708.51L108.24 708.30L108.49 708.25L108.74 708.17L108.99 708.16L109.24 708.16L109.49 708.17L109.74 708.20L109.99 708.13L110.24 708.14L110.50 708.29L110.75 708.40L111.00 708.31L111.25 708.20L111.50 708.11L111.75 708.18L112.00 708.22L112.25 708.24L112.50 708.30L112.75 708.39L113.01 708.41L113.26 708.28L113.51 708.19L113.76 708.22L114.01 708.37L114.26 708.48L114.51 708.36L114.76 708.27L115.01 708.11L115.27 707.97L115.52 707.93L115.77 707.89L116.02 708.20L116.27 708.31L116.52 708.39L116.77 708.29L117.02 708.29L117.27 708.46L117.52 708.51L117.78 708.59L118.03 708.50L118.28 708.54L118.53 708.53L118.78 708.56L119.03 708.47L119.28 708.45L119.53 708.35L119.78 708.45L120.04 708.36L120.29 708.33L120.54 708.37L120.79 708.36L121.04 708.42L121.29 708.21L121.54 708.19L121.79 708.15L122.04 708.16L122.29 708.29L122.55 708.27L122.80 708.25L123.05 708.24L123.30 708.34L123.55 708.27L123.80 708.15L124.05 708.17L124.30 708.28L124.55 708.30L124.81 708.21L125.06 708.11L125.31 708.06L125.56 708.13L125.81 708.40L126.06 708.45L126.31 708.39L126.56 708.33L126.81 708.35L127.06 708.39L127.32 708.29L127.57 708.28L127.82 708.28L128.07 708.38L128.32 708.27L128.57 708.29L128.82 708.26L129.07 708.38L129.32 708.20L129.58 708.19L129.83 708.07L130.08 708.02L130.33 708.02L130.58 708.13L130.83 708.32L131.08 708.32L131.33 708.32L131.58 708.40L131.83 708.44L132.09 708.56L132.34 708.66L132.59 708.66L132.84 708.60L133.09 708.55L133.34 708.44L133.59 708.36L133.84 708.24L134.09 708.19L134.35 708.29L134.60 708.38L134.85 708.40L135.10 708.27L135.35 708.23L135.60 708.41L135.85 708.35L136.10 708.32L136.35 708.21L136.60 708.20L136.86 708.13L137.11 708.10L137.36 708.24L137.61 708.27L137.86 708.29L138.11 708.28L138.36 708.26L138.61 708.32L138.86 708.39L139.12 708.47L139.37 708.37L139.62 708.25L139.87 708.13L140.12 708.30L140.37 708.39L140.62 708.38L140.87 708.20L141.12 708.09L141.37 708.15L141.63 708.15L141.88 708.22L142.13 708.32L142.38 708.38L142.63 708.44L142.88 708.23L143.13 708.28L143.38 708.24L143.63 708.28L143.89 708.35L144.14 708.33L144.39 708.35L144.64 708.23L144.89 708.30L145.14 708.25L145.39 708.28L145.64 708.15L145.89 708.26L146.14 708.21L146.40 708.27L146.65 708.31L146.90 708.35L147.15 708.40L147.40 708.39L147.65 708.42L147.90 708.39L148.15 708.35L148.40 708.36L148.66 708.43L148.91 708.56L149.16 708.64L149.41 708.48L149.66 708.38L149.91 708.29L150.16 708.44L150.41 708.49L150.66 708.36L150.91 708.29L151.17 708.09L151.42 708.16L151.67 708.07L151.92 708.15L152.17 708.29L152.42 708.32L152.67 708.33L152.92 708.22L153.17 708.34L153.43 708.25L153.68 708.36L153.93 708.22L154.18 708.27L154.43 708.17L154.68 708.27L154.93 708.53L155.18 708.58L155.43 708.49L155.68 708.28L155.94 708.15L156.19 708.24L156.44 708.31L156.69 708.35L156.94 708.39L157.19 708.21L157.44 708.20L157.69 708.05L157.94 708.13L158.20 708.04L158.45 708.17L158.70 708.15L158.95 708.25L159.20 708.27L159.45 708.45L159.70 708.54L159.95 708.30L160.20 708.16L160.45 708.05L160.71 708.16L160.96 708.12L161.21 708.11L161.46 708.20L161.71 708.22L161.96 708.16L162.21 708.01L162.46 708.05L162.71 708.02L162.97 708.18L163.22 708.14L163.47 708.22L163.72 708.19L163.97 708.20L164.22 708.28L164.47 708.17L164.72 708.07L164.97 708.16L165.22 708.26L165.48 708.21L165.73 708.19L165.98 708.07L166.23 708.40L166.48 708.41L166.73 708.57L166.98 708.42L167.23 708.23L167.48 708.24L167.74 708.21L167.99 708.34L168.24 708.26L168.49 708.17L168.74 708.04L168.99 708.07L169.24 708.14L169.49 708.20L169.74 708.13L169.99 708.28L170.25 708.23L170.50 708.33L170.75 708.10L171.00 708.19L171.25 708.27L171.50 708.43L171.75 708.35L172.00 708.17L172.25 708.17L172.51 708.23L172.76 708.20L173.01 708.16L173.26 708.16L173.51 708.19L173.76 708.23L174.01 708.18L174.26 708.33L174.51 708.20L174.76 708.25L175.02 708.16L175.27 708.11L175.52 708.01L175.77 707.94L176.02 708.14L176.27 708.18L176.52 708.24L176.77 708.18L177.02 708.39L177.28 708.37L177.53 708.50L177.78 708.30L178.03 708.20L178.28 708.01L178.53 707.93L178.78 708.01L179.03 707.97L179.28 707.99L179.53 708.15L179.79 708.27L180.04 708.36L180.29 708.35L180.54 708.22L180.79 708.23L181.04 708.07L181.29 708.18L181.54 708.09L181.79 708.13L182.05 708.22L182.30 708.35L182.55 708.36L182.80 708.33L183.05 708.16L183.30 707.93L183.55 707.95L183.80 708.18L184.05 708.42L184.30 708.30L184.56 708.16L184.81 708.21L185.06 708.17L185.31 708.17L185.56 708.13L185.81 708.13L186.06 708.28L186.31 708.29L186.56 708.48L186.82 708.25L187.07 708.21L187.32 708.20L187.57 708.31L187.82 708.38L188.07 708.14L188.32 708.10L188.57 707.87L188.82 707.96L189.07 707.99L189.33 708.12L189.58 708.07L189.83 708.07L190.08 708.12L190.33 708.20L190.58 708.24L190.83 708.27L191.08 708.36L191.33 708.28L191.59 708.23L191.84 708.10L192.09 708.12L192.34 708.16L192.59 708.19L192.84 708.17L193.09 708.05L193.34 708.09L193.59 708.23L193.84 708.34L194.10 708.29L194.35 708.23L194.60 708.23L194.85 708.35L195.10 708.24L195.35 708.22L195.60 708.09L195.85 708.09L196.10 708.14L196.36 708.20L196.61 708.25L196.86 708.25L197.11 708.23L197.36 708.16L197.61 708.12L197.86 708.04L198.11 708.05L198.36 707.95L198.61 708.00L198.87 708.13L199.12 708.13L199.37 708.01L199.62 707.91L199.87 707.95L200.12 708.07L200.37 708.11L200.62 708.00L200.87 707.98L201.13 708.03L201.38 708.16L201.63 708.12L201.88 708.03L202.13 707.92L202.38 708.05L202.63 708.04L202.88 708.09L203.13 707.97L203.38 707.96L203.64 707.97L203.89 708.09L204.14 708.11L204.39 708.21L204.64 708.14L204.89 708.23L205.14 708.32L205.39 708.49L205.64 708.46L205.90 708.29L206.15 708.12L206.40 708.15L206.65 708.01L206.90 707.97L207.15 707.91L207.40 707.99L207.65 707.97L207.90 708.07L208.15 708.02L208.41 708.06L208.66 707.93L208.91 708.00L209.16 707.95L209.41 708.05L209.66 708.07L209.91 708.27L210.16 708.12L210.41 708.14L210.67 707.92L210.92 708.03L211.17 708.11L211.42 708.12L211.67 708.17L211.92 708.03L212.17 708.03L212.42 707.98L212.67 708.09L212.92 708.19L213.18 708.18L213.43 708.13L213.68 708.08L213.93 707.91L214.18 707.89L214.43 707.87L214.68 708.06L214.93 708.03L215.18 708.22L215.44 708.23L215.69 708.26L215.94 708.16L216.19 708.10L216.44 708.22L216.69 708.14L216.94 708.26L217.19 708.10L217.44 708.13L217.69 708.03L217.95 708.04L218.20 708.01L218.45 708.02L218.70 707.99L218.95 707.96L219.20 707.99L219.45 708.02L219.70 708.19L219.95 708.27L220.21 708.29L220.46 708.21L220.71 708.13L220.96 708.22L221.21 708.15L221.46 708.17L221.71 708.08L221.96 708.11L222.21 708.14L222.46 708.18L222.72 708.12L222.97 707.99L223.22 708.01L223.47 708.03L223.72 708.00L223.97 707.99L224.22 707.98L224.47 708.19L224.72 708.13L224.98 708.25L225.23 708.00L225.48 708.02L225.73 708.03L225.98 708.17L226.23 708.24L226.48 708.14L226.73 708.12L226.98 708.06L227.23 708.00L227.49 708.07L227.74 708.03L227.99 708.12L228.24 708.10L228.49 708.19L228.74 708.39L228.99 708.33L229.24 708.38L229.49 708.19L229.75 708.20L230.00 708.17L230.25 708.23L230.50 708.19L230.75 708.11L231.00 708.07L231.25 708.23L231.50 708.18L231.75 708.18L232.00 708.11L232.26 708.17L232.51 708.12L232.76 708.14L233.01 708.06L233.26 708.23L233.51 707.99L233.76 707.92L234.01 707.78L234.26 707.84L234.52 707.83L234.77 707.60L235.02 707.37L235.27 707.16L235.52 706.97L235.77 706.78L236.02 706.53L236.27 706.50L236.52 706.38L236.77 706.24L237.03 705.96L237.28 705.72L237.53 705.55L237.78 705.42L238.03 705.31L238.28 705.60L238.53 705.91L238.78 706.22L239.03 706.56L239.29 706.84L239.54 707.06L239.79 706.75L240.04 706.49L240.29 706.35L240.54 706.14L240.79 705.86L241.04 705.58L241.29 705.76L241.54 706.07L241.80 706.23L242.05 706.49L242.30 706.60L242.55 706.82L242.80 706.94L243.05 707.04L243.30 707.13L243.55 707.27L243.80 707.20L244.06 707.29L244.31 707.39L244.56 707.59L244.81 707.66L245.06 707.74L245.31 707.76L245.56 707.88L245.81 707.85L246.06 708.06L246.31 708.07L246.57 708.16L246.82 708.08L247.07 708.05L247.32 707.99L247.57 708.09L247.82 708.06L248.07 708.05L248.32 708.09L248.57 708.04L248.83 708.06L249.08 708.07L249.33 708.19L249.58 708.28L249.83 708.14L250.08 708.13L250.33 708.00L250.58 707.95L250.83 707.98L251.08 707.97L251.34 708.11L251.59 708.00L251.84 708.11L252.09 708.15L252.34 708.14L252.59 708.03L252.84 707.80L253.09 707.84L253.34 707.90L253.60 708.04L253.85 708.12L254.10 708.13L254.35 708.19L254.60 708.10L254.85 708.00L255.10 708.00L255.35 708.11L255.60 708.30L255.85 708.31L256.11 708.16L256.36 708.05L256.61 708.05L256.86 708.07L257.11 708.07L257.36 708.01L257.61 708.03L257.86 707.99L258.11 708.06L258.37 708.15L258.62 708.31L258.87 708.28L259.12 708.24L259.37 708.03L259.62 708.08L259.87 708.17L260.12 708.24L260.37 708.25L260.62 708.12L260.88 708.22L261.13 708.23L261.38 708.17L261.63 708.07L261.88 707.97L262.13 708.06L262.38 708.21L262.63 708.27L262.88 708.30L263.14 708.22L263.39 708.17L263.64 708.24L263.89 708.26L264.14 708.37L264.39 708.31L264.64 708.18L264.89 708.16L265.14 708.10L265.39 708.13L265.65 708.29L265.90 708.40L266.15 708.44L266.40 708.31L266.65 708.32L266.90 708.37L267.15 708.28L267.40 708.28L267.65 708.31L267.91 708.39L268.16 708.21L268.41 708.19L268.66 708.28L268.91 708.33L269.16 708.27L269.41 708.07L269.66 708.11L269.91 708.13L270.16 708.33L270.42 708.35L270.67 708.47L270.92 708.26L271.17 708.33L271.42 708.21L271.67 708.25L271.92 708.23L272.17 708.33L272.42 708.39L272.68 708.42L272.93 708.33L273.18 708.34L273.43 708.32L273.68 708.38L273.93 708.34L274.18 708.27L274.43 708.18L274.68 708.15L274.93 708.23L275.19 708.21L275.44 708.30L275.69 708.28L275.94 708.43L276.19 708.40L276.44 708.46L276.69 708.40L276.94 708.40L277.19 708.30L277.45 708.31L277.70 708.30L277.95 708.28L278.20 708.21L278.45 708.07L278.70 708.20L278.95 708.31L279.20 708.42L279.45 708.25L279.70 708.22L279.96 708.33L280.21 708.42L280.46 708.33L280.71 708.34L280.96 708.40L281.21 708.53L281.46 708.57L281.71 708.51L281.96 708.45L282.22 708.46L282.47 708.52L282.72 708.69L282.97 708.36L283.22 708.19L283.47 708.06L283.72 708.28L283.97 708.30L284.22 708.20L284.47 708.10L284.73 708.23L284.98 708.19L285.23 708.24L285.48 708.14L285.73 708.03L285.98 708.06L286.23 708.25L286.48 708.45L286.73 708.48L286.99 708.36L287.24 708.36L287.49 708.19L287.74 708.17L287.99 708.04L288.24 708.12L288.49 708.14L288.74 708.30L288.99 708.28L289.24 708.26L289.50 708.18L289.75 708.29L290.00 708.22L290.25 708.50L290.50 708.51L290.75 708.59L291.00 708.52L291.25 708.40L291.50 708.50L291.76 708.33L292.01 708.40L292.26 708.27L292.51 708.26L292.76 708.22L293.01 708.27L293.26 708.31L293.51 708.48L293.76 708.48L294.01 708.31L294.27 708.13L294.52 708.10L294.77 708.31L295.02 708.40L295.27 708.33L295.52 708.32L295.77 708.22L296.02 708.32L296.27 708.28L296.53 708.43L296.78 708.50L297.03 708.63L297.28 708.49L297.53 708.38L297.78 708.27L298.03 708.29L298.28 708.28L298.53 708.32L298.78 708.52L299.04 708.59L299.29 708.66L299.54 708.41L299.79 708.53L300.04 708.57L300.29 708.69L300.54 708.51L300.79 708.40L301.04 708.27L301.30 708.32L301.55 708.15L301.80 708.38L302.05 708.36L302.30 708.43L302.55 708.17L302.80 708.28L303.05 708.34L303.30 708.45L303.55 708.43L303.81 708.33L304.06 708.44L304.31 708.45L304.56 708.53L304.81 708.54L305.06 708.57L305.31 708.54L305.56 708.40L305.81 708.34L306.07 708.45L306.32 708.45L306.57 708.17L306.82 708.00L307.07 708.15L307.32 708.33L307.57 708.37L307.82 708.31L308.07 708.22L308.32 708.45L308.58 708.28L308.83 708.39L309.08 708.26L309.33 708.44L309.58 708.38L309.83 708.33L310.08 708.36L310.33 708.44L310.58 708.52L310.84 708.46L311.09 708.46L311.34 708.35L311.59 708.26L311.84 708.22L312.09 708.20L312.34 708.39L312.59 708.46L312.84 708.63L313.09 708.42L313.35 708.27L313.60 708.23L313.85 708.35L314.10 708.46L314.35 708.48L314.60 708.40L314.85 708.29L315.10 708.16L315.35 708.38L315.61 708.46L315.86 708.47L316.11 708.42L316.36 708.49L316.61 708.61L316.86 708.55L317.11 708.47L317.36 708.53L317.61 708.55L317.86 708.48L318.12 708.27L318.37 708.17L318.62 708.31L318.87 708.35L319.12 708.37L319.37 708.28L319.62 708.33L319.87 708.43L320.12 708.44L320.38 708.43L320.63 708.47L320.88 708.39L321.13 708.41L321.38 708.30L321.63 708.41L321.88 708.46L322.13 708.60L322.38 708.60L322.63 708.53L322.89 708.42L323.14 708.34L323.39 708.31L323.64 708.29L323.89 708.39L324.14 708.36L324.39 708.42L324.64 708.32L324.89 708.32L325.15 708.18L325.40 708.28L325.65 708.39L325.90 708.45L326.15 708.51L326.40 708.42L326.65 708.43L326.90 708.37L327.15 708.39L327.40 708.40L327.66 708.31L327.91 708.17L328.16 708.12L328.41 708.16L328.66 708.29L328.91 708.26L329.16 708.19L329.41 708.35L329.66 708.48L329.92 708.59L330.17 708.46L330.42 708.36L330.67 708.33L330.92 708.40L331.17 708.51L331.42 708.48L331.67 708.37L331.92 708.26L332.17 708.25L332.43 708.35L332.68 708.43L332.93 708.50L333.18 708.39L333.43 708.44L333.68 708.42L333.93 708.28L334.18 708.28L334.43 708.30L334.69 708.43L334.94 708.43L335.19 708.25L335.44 708.25L335.69 708.20L335.94 708.32L336.19 708.51L336.44 708.60L336.69 708.67L336.94 708.54L337.20 708.52L337.45 708.55L337.70 708.46L337.95 708.32L338.20 708.21L338.45 708.33L338.70 708.36L338.95 708.52L339.20 708.50L339.46 708.43L339.71 708.25L339.96 708.34L340.21 708.48L340.46 708.50L340.71 708.29L340.96 708.09L341.21 708.22L341.46 708.30L341.71 708.54L341.97 708.44L342.22 708.44L342.47 708.30L342.72 708.37L342.97 708.51L343.22 708.46L343.47 708.48L343.72 708.45L343.97 708.51L344.23 708.43L344.48 708.41L344.73 708.37L344.98 708.38L345.23 708.24L345.48 708.24L345.73 708.28L345.98 708.38L346.23 708.40L346.48 708.38L346.74 708.26L346.99 708.43L347.24 708.34L347.49 708.47L347.74 708.27L347.99 708.34L348.24 708.16L348.49 708.17L348.74 708.08L349.00 708.24L349.25 708.30L349.50 708.32L349.75 708.22L350.00 708.25L350.25 708.28L350.50 708.39L350.75 708.38L351.00 708.38L351.25 708.32L351.51 708.16L351.76 708.20L352.01 708.20L352.26 708.33L352.51 708.43L352.76 708.46L353.01 708.46L353.26 708.36L353.51 708.32L353.77 708.42L354.02 708.41L354.27 708.53L354.52 708.48L354.77 708.43L355.02 708.36L355.27 708.39L355.52 708.42L355.77 708.41L356.02 708.31L356.28 708.32L356.53 708.37L356.78 708.33L357.03 708.32L357.28 708.28L357.53 708.15L357.78 708.15L358.03 708.14L358.28 708.36L358.54 708.33L358.79 708.26L359.04 708.29L359.29 708.29L359.54 708.39L359.79 708.33L360.04 708.32L360.29 708.26L360.54 708.20L360.79 708.32L361.05 708.37L361.30 708.30L361.55 708.36L361.80 708.45L362.05 708.66L362.30 708.46L362.55 708.33L362.80 708.20L363.05 708.37L363.31 708.41L363.56 708.47L363.81 708.35L364.06 708.24L364.31 708.29L364.56 708.46L364.81 708.54L365.06 708.41L365.31 708.21L365.56 708.18L365.82 708.14L366.07 708.15L366.32 708.17L366.57 708.17L366.82 708.24L367.07 708.23L367.32 708.25L367.57 708.23L367.82 708.37L368.08 708.55L368.33 708.63L368.58 708.59L368.83 708.57L369.08 708.54L369.33 708.52L369.58 708.59L369.83 708.52L370.08 708.51L370.33 708.27L370.59 708.35L370.84 708.39L371.09 708.46L371.34 708.54L371.59 708.37L371.84 708.50L372.09 708.37L372.34 708.46L372.59 708.32L372.85 708.38L373.10 708.35L373.35 708.45L373.60 708.41L373.85 708.44L374.10 708.34L374.35 708.37L374.60 708.32L374.85 708.32L375.10 708.19L375.36 708.19L375.61 708.18L375.86 708.26L376.11 708.30L376.36 708.22L376.61 708.28L376.86 708.44L377.11 708.55L377.36 708.35L377.62 708.25L377.87 708.25L378.12 708.37L378.37 708.33L378.62 708.33L378.87 708.33L379.12 708.36L379.37 708.38L379.62 708.37L379.87 708.38L380.13 708.45L380.38 708.56L380.63 708.44L380.88 708.36L381.13 708.31L381.38 708.40L381.63 708.38L381.88 708.42L382.13 708.43L382.39 708.48L382.64 708.29L382.89 708.16L383.14 708.10L383.39 708.21L383.64 708.38L383.89 708.36L384.14 708.46L384.39 708.40L384.64 708.43L384.90 708.37L385.15 708.46L385.40 708.50L385.65 708.44L385.90 708.36L386.15 708.41L386.40 708.39L386.65 708.37L386.90 708.33L387.16 708.33L387.41 708.36L387.66 708.30L387.91 708.17L388.16 708.11L388.41 708.13L388.66 708.40L388.91 708.51L389.16 708.56L389.41 708.39L389.67 708.23L389.92 708.16L390.17 708.23L390.42 708.30L390.67 708.27L390.92 708.25L391.17 708.21L391.42 708.31L391.67 708.43L391.93 708.54L392.18 708.33L392.43 708.28L392.68 708.18L392.93 708.37L393.18 708.32L393.43 708.37L393.68 708.23L393.93 708.29L394.18 708.21L394.44 708.27L394.69 708.20L394.94 708.31L395.19 708.34L395.44 708.21L395.69 708.19L395.94 708.21L396.19 708.38L396.44 708.44L396.70 708.37L396.95 708.22L397.20 708.12L397.45 708.15L397.70 708.36L397.95 708.38L398.20 708.45L398.45 708.34L398.70 708.44L398.95 708.46L399.21 708.51L399.46 708.35L399.71 708.38L399.96 708.29L400.21 708.30L400.46 708.21L400.71 708.32L400.96 708.33L401.21 708.40L401.47 708.33L401.72 708.38L401.97 708.31L402.22 708.21L402.47 708.15L402.72 708.20L402.97 708.24L403.22 708.26L403.47 708.30L403.72 708.21L403.98 708.32L404.23 708.35L404.48 708.51L404.73 708.49L404.98 708.28L405.23 708.27L405.48 708.21L405.73 708.39L405.98 708.41L406.24 708.51L406.49 708.53L406.74 708.45L406.99 708.22L407.24 708.10L407.49 708.12L407.74 708.24L407.99 708.31L408.24 708.35L408.49 708.29L408.75 708.27L409.00 708.28L409.25 708.30L409.50 708.28L409.75 708.22L410.00 708.27L410.25 708.28L410.50 708.29L410.75 708.38L411.01 708.41L411.26 708.45L411.51 708.40L411.76 708.53L412.01 708.56L412.26 708.39L412.51 708.44L412.76 708.33L413.01 708.34L413.26 708.11L413.52 708.28L413.77 708.36L414.02 708.28L414.27 708.31L414.52 708.20L414.77 708.47L415.02 708.16L415.27 708.26L415.52 708.13L415.78 708.26L416.03 708.27L416.28 708.34L416.53 708.40L416.78 708.46L417.03 708.39L417.28 708.39L417.53 708.30L417.78 708.28L418.03 708.33L418.29 708.45L418.54 708.38L418.79 708.27L419.04 708.20L419.29 708.28L419.54 708.26L419.79 708.11L420.04 708.13L420.29 708.14L420.55 708.43L420.80 708.50L421.05 708.58L421.30 708.34L421.55 708.21L421.80 708.25L422.05 708.29L422.30 708.33L422.55 708.28L422.80 708.38L423.06 708.37L423.31 708.38L423.56 708.21L423.81 708.24L424.06 708.19L424.31 708.43L424.56 708.46L424.81 708.31L425.06 708.30L425.32 708.47L425.57 708.67L425.82 708.61L426.07 708.53L426.32 708.49L426.57 708.43L426.82 708.34L427.07 708.10L427.32 708.07L427.57 708.10L427.83 708.37L428.08 708.31L428.33 708.24L428.58 708.16L428.83 708.21L429.08 708.30L429.33 708.27L429.58 708.31L429.83 708.29L430.09 708.29L430.34 708.30L430.59 708.18L430.84 708.24L431.09 708.24L431.34 708.35L431.59 708.32L431.84 708.31L432.09 708.15L432.34 708.14L432.60 708.08L432.85 708.10L433.10 708.12L433.35 708.20L433.60 708.28L433.85 708.39L434.10 708.35L434.35 708.30L434.60 708.07L434.86 708.19L435.11 708.30L435.36 708.49L435.61 708.36L435.86 708.27L436.11 708.18L436.36 708.14L436.61 708.21L436.86 708.25L437.11 708.43L437.37 708.42L437.62 708.41L437.87 708.37L438.12 708.41L438.37 708.34L438.62 708.18L438.87 708.05L439.12 708.19L439.37 708.35L439.63 708.53L439.88 708.47L440.13 708.45L440.38 708.33L440.63 708.47L440.88 708.49L441.13 708.63L441.38 708.52L441.63 708.42L441.88 708.38L442.14 708.24L442.39 708.35L442.64 708.27L442.89 708.41L443.14 708.27L443.39 708.28L443.64 708.21L443.89 708.23L444.14 708.33L444.40 708.41L444.65 708.44L444.90 708.30L445.15 708.23L445.40 708.27L445.65 708.34L445.90 708.37L446.15 708.24L446.40 708.22L446.65 708.23L446.91 708.40L447.16 708.40L447.41 708.37L447.66 708.33L447.91 708.29L448.16 708.45L448.41 708.39L448.66 708.36L448.91 708.23L449.17 708.30L449.42 708.42L449.67 708.39L449.92 708.33L450.17 708.22L450.42 708.23L450.67 708.29L450.92 708.35L451.17 708.26L451.42 708.15L451.68 708.23L451.93 708.32L452.18 708.40L452.43 708.45L452.68 708.52L452.93 708.43L453.18 708.29L453.43 708.29L453.68 708.43L453.94 708.47L454.19 708.52L454.44 708.38L454.69 708.42L454.94 708.27L455.19 708.45L455.44 708.39L455.69 708.31L455.94 708.25L456.19 708.07L456.45 708.27L456.70 708.27L456.95 708.53L457.20 708.48L457.45 708.47L457.70 708.49L457.95 708.53L458.20 708.41L458.45 708.27L458.71 708.32L458.96 708.34L459.21 708.29L459.46 708.12L459.71 708.10L459.96 708.19L460.21 708.24L460.46 708.41L460.71 708.38L460.96 708.51L461.22 708.42L461.47 708.50L461.72 708.47L461.97 708.52L462.22 708.44L462.47 708.26L462.72 708.16L462.97 708.21L463.22 708.28L463.48 708.40L463.73 708.31L463.98 708.34L464.23 708.30L464.48 708.40L464.73 708.37L464.98 708.42L465.23 708.25L465.48 708.19L465.73 708.14L465.99 708.25L466.24 708.37L466.49 708.25L466.74 708.28L466.99 708.13L467.24 708.34L467.49 708.27L467.74 708.35L467.99 708.30L468.25 708.38L468.50 708.38L468.75 708.32L469.00 708.42L469.25 708.39L469.50 708.51L469.75 708.36L470.00 708.34L470.25 708.32L470.50 708.41L470.76 708.50L471.01 708.49L471.26 708.43L471.51 708.40L471.76 708.36L472.01 708.40L472.26 708.39L472.51 708.44L472.76 708.45L473.02 708.62L473.27 708.77L473.52 708.66L473.77 708.58L474.02 708.37L474.27 708.37L474.52 708.37L474.77 708.16L475.02 708.16L475.27 708.17L475.53 708.25L475.78 708.29L476.03 708.22L476.28 708.23L476.53 708.22L476.78 708.25L477.03 708.35L477.28 708.38L477.53 708.44L477.79 708.42L478.04 708.49L478.29 708.41L478.54 708.33L478.79 708.21L479.04 708.24L479.29 708.24L479.54 708.32L479.79 708.33L480.04 708.35L480.30 708.21L480.55 708.24L480.80 708.44L481.05 708.58L481.30 708.63L481.55 708.55L481.80 708.49L482.05 708.38L482.30 708.39L482.56 708.20L482.81 708.21L483.06 708.25L483.31 708.53L483.56 708.49L483.81 708.38L484.06 708.19L484.31 708.27L484.56 708.14L484.81 708.33L485.07 708.30L485.32 708.42L485.57 708.40L485.82 708.45L486.07 708.44L486.32 708.31L486.57 708.30L486.82 708.33L487.07 708.45L487.33 708.31L487.58 708.41L487.83 708.46L488.08 708.44L488.33 708.21L488.58 708.16L488.83 708.24L489.08 708.33L489.33 708.26L489.58 708.27L489.84 708.32L490.09 708.39L490.34 708.51L490.59 708.62L490.84 708.44L491.09 708.38L491.34 708.37L491.59 708.42L491.84 708.31L492.10 708.18L492.35 708.35L492.60 708.43L492.85 708.48L493.10 708.44L493.35 708.48L493.60 708.48L493.85 708.40L494.10 708.26L494.35 708.20L494.61 708.39L494.86 708.49L495.11 708.59L495.36 708.58L495.61 708.58L495.86 708.39L496.11 708.29L496.36 708.22L496.61 708.33L496.87 708.25L497.12 708.28L497.37 708.24L497.62 708.36L497.87 708.41L498.12 708.53L498.37 708.49L498.62 708.37L498.87 708.40L499.12 708.30L499.38 708.26L499.63 708.17L499.88 708.25L500.13 708.38L500.38 708.49L500.63 708.45L500.88 708.52L501.13 708.56L501.38 708.61L501.64 708.45L501.89 708.44L502.14 708.42L502.39 708.50L502.64 708.31L502.89 708.17L503.14 708.28L503.39 708.43L503.64 708.51L503.89 708.37L504.15 708.22L504.40 708.28L504.65 708.16L504.90 708.31L505.15 708.34L505.40 708.56L505.65 708.51L505.90 708.53L506.15 708.48L506.41 708.51L506.66 708.42L506.91 708.47L507.16 708.34L507.41 708.34L507.66 708.26L507.91 708.51L508.16 708.48L508.41 708.51L508.66 708.37L508.92 708.33L509.17 708.48L509.42 708.52L509.67 708.66L509.92 708.48L510.17 708.46L510.42 708.27L510.67 708.40L510.92 708.32L511.18 708.56L511.43 708.37L511.68 708.35L511.93 708.11L512.18 708.16L512.43 708.20L512.68 708.31L512.93 708.45L513.18 708.44L513.43 708.48L513.69 708.30L513.94 708.35L514.19 708.33L514.44 708.38L514.69 708.27L514.94 708.39L515.19 708.50L515.44 708.55L515.69 708.50L515.95 708.35L516.20 708.44L516.45 708.48L516.70 708.48L516.95 708.45L517.20 708.26L517.45 708.30L517.70 708.18L517.95 708.33L518.20 708.35L518.46 708.33L518.71 708.24L518.96 708.18L519.21 708.25L519.46 708.32L519.71 708.36L519.96 708.35L520.21 708.51L520.46 708.53L520.72 708.52L520.97 708.47L521.22 708.49L521.47 708.62L521.72 708.61L521.97 708.49L522.22 708.38L522.47 708.29L522.72 708.26L522.97 708.33L523.23 708.29L523.48 708.44L523.73 708.46L523.98 708.48L524.23 708.30L524.48 708.29L524.73 708.27L524.98 708.44L525.23 708.26L525.49 708.42L525.74 708.39L525.99 708.58L526.24 708.49L526.49 708.58L526.74 708.64L526.99 708.58L527.24 708.46L527.49 708.38L527.74 708.49L528.00 708.37L528.25 708.35L528.50 708.19"/>
</g>
<g fill="#fff" stroke="#666" stroke-width="1.2">
<rect x="294.1" y="10.5" width="232.3" height="32.7"/>
<rect x="365.4" y="251.5" width="160" height="33.7"/>
<rect x="421" y="493" width="105.4" height="33.5"/>
</g>
<g stroke-width="2.4" stroke-linecap="butt">
<line x1="296" y1="27" x2="353" y2="27" stroke="#AD581B"/>
<line x1="367.5" y1="268.5" x2="424.7" y2="268.5" stroke="#4A0A8E"/>
<line x1="423" y1="510" x2="479.5" y2="510" stroke="#D01070"/>
</g>
<g font-family='"Liberation Sans", sans-serif' font-size="24.4" fill="#000">
<text x="358.5" y="35">GO/ZnO/Lignin</text>
<text x="429.5" y="277">GO/ZnO</text>
<text x="484.3" y="517.5">GO</text>
</g>
<g stroke="#000" stroke-width="2" fill="none" stroke-linecap="square">
<path d="M52 10 H529 M52 251 H529 M52 493 H529 M52 733 H529"/>
<path d="M52 10 V737 M529 10 V742"/>
<path stroke-linecap="butt" d="M77.11 733 V742 M127.32 733 V742 M177.53 733 V742 M227.74 733 V742 M277.95 733 V742 M328.16 733 V742 M378.37 733 V742 M428.58 733 V742 M478.79 733 V742 M529.00 733 V742 M102.21 733 V737 M152.42 733 V737 M202.63 733 V737 M252.84 733 V737 M303.05 733 V737 M353.26 733 V737 M403.47 733 V737 M453.68 733 V737 M503.89 733 V737"/>
</g>
<g fill="#000" stroke="#000" stroke-width="0.25">
<g transform="translate(77.11 764) scale(1 1.07)"><text x="-10.57" y="0" font-family='"Liberation Sans", sans-serif' font-weight="normal" font-size="19.00">&#8199;0</text><path transform="translate(-10.57 0) scale(0.00928 -0.00928)" d="M515 0L515 1237L197 1010L197 1180L530 1409L696 1409L696 0Z"/></g>
<g transform="translate(127.32 764) scale(1 1.07)"><text x="-10.57" y="0" font-family='"Liberation Sans", sans-serif' font-weight="normal" font-size="19.00">20</text></g>
<g transform="translate(177.53 764) scale(1 1.07)"><text x="-10.57" y="0" font-family='"Liberation Sans", sans-serif' font-weight="normal" font-size="19.00">30</text></g>
<g transform="translate(227.74 764) scale(1 1.07)"><text x="-10.57" y="0" font-family='"Liberation Sans", sans-serif' font-weight="normal" font-size="19.00">40</text></g>
<g transform="translate(277.95 764) scale(1 1.07)"><text x="-10.57" y="0" font-family='"Liberation Sans", sans-serif' font-weight="normal" font-size="19.00">50</text></g>
<g transform="translate(328.16 764) scale(1 1.07)"><text x="-10.57" y="0" font-family='"Liberation Sans", sans-serif' font-weight="normal" font-size="19.00">60</text></g>
<g transform="translate(378.37 764) scale(1 1.07)"><text x="-10.57" y="0" font-family='"Liberation Sans", sans-serif' font-weight="normal" font-size="19.00">70</text></g>
<g transform="translate(428.58 764) scale(1 1.07)"><text x="-10.57" y="0" font-family='"Liberation Sans", sans-serif' font-weight="normal" font-size="19.00">80</text></g>
<g transform="translate(478.79 764) scale(1 1.07)"><text x="-10.57" y="0" font-family='"Liberation Sans", sans-serif' font-weight="normal" font-size="19.00">90</text></g>
<g transform="translate(529.00 764) scale(1 1.07)"><text x="-15.85" y="0" font-family='"Liberation Sans", sans-serif' font-weight="normal" font-size="19.00">&#8199;00</text><path transform="translate(-15.85 0) scale(0.00928 -0.00928)" d="M515 0L515 1237L197 1010L197 1180L530 1409L696 1409L696 0Z"/></g>
</g>
<text x="224" y="806.6" font-family='"Liberation Serif", serif' font-weight="bold" font-size="27.1">2&#952; (Degree)</text>
<text transform="translate(26.60 319.90) rotate(-90)" text-anchor="middle" font-family='"Liberation Serif", serif' font-weight="bold" font-size="27.40">Intensity (a.u.)</text>
<g font-family='"Liberation Serif", serif' font-size="23.5" fill="#000">
<text x="59.6" y="50.2">(a)</text>
<text x="60.0" y="289.3">(b)</text>
<text x="96.1" y="522.6">(c)</text>
</g>
<text transform="translate(189.20 83.80) rotate(-90)" text-anchor="middle" font-family='"Liberation Serif", serif' font-weight="normal" font-size="16.30" stroke="#000" stroke-width="0.45">(100)</text>
<g transform="translate(205.2 85.4) rotate(-90)"><text x="-16.92" y="0" font-family='"Liberation Sans", sans-serif' font-weight="bold" font-size="14.50">(002)</text></g>
<g transform="translate(214.9 25.4) rotate(-90)"><text x="-15.06" y="0" font-family='"Liberation Sans", sans-serif' font-weight="bold" font-size="12.90">(&#8199;0&#8199;)</text><path transform="translate(-10.76 0) scale(0.00630 -0.00630)" d="M478 0L478 1170L140 959L140 1180L493 1409L759 1409L759 0Z"/><path transform="translate(3.59 0) scale(0.00630 -0.00630)" d="M478 0L478 1170L140 959L140 1180L493 1409L759 1409L759 0Z"/></g>
<text transform="translate(317.90 142.30) rotate(-90)" text-anchor="middle" font-family='"Liberation Serif", serif' font-weight="normal" font-size="16.30" stroke="#000" stroke-width="0.45">(102)</text>
<text transform="translate(347.40 155.50) rotate(-90)" text-anchor="middle" font-family='"Liberation Serif", serif' font-weight="normal" font-size="16.30" stroke="#000" stroke-width="0.45">(110)</text>
<text transform="translate(374.50 151.40) rotate(-90)" text-anchor="middle" font-family='"Liberation Serif", serif' font-weight="normal" font-size="16.30" stroke="#000" stroke-width="0.45">(103)</text>
<text transform="translate(187.80 326.70) rotate(-90)" text-anchor="middle" font-family='"Liberation Serif", serif' font-weight="normal" font-size="16.30" stroke="#000" stroke-width="0.45">(100)</text>
<g transform="translate(204.2 326.9) rotate(-90)"><text x="-16.92" y="0" font-family='"Liberation Sans", sans-serif' font-weight="bold" font-size="14.50">(002)</text></g>
<g transform="translate(213.6 267.6) rotate(-90)"><text x="-15.06" y="0" font-family='"Liberation Sans", sans-serif' font-weight="bold" font-size="12.90">(&#8199;0&#8199;)</text><path transform="translate(-10.76 0) scale(0.00630 -0.00630)" d="M478 0L478 1170L140 959L140 1180L493 1409L759 1409L759 0Z"/><path transform="translate(3.59 0) scale(0.00630 -0.00630)" d="M478 0L478 1170L140 959L140 1180L493 1409L759 1409L759 0Z"/></g>
<text transform="translate(316.00 384.00) rotate(-90)" text-anchor="middle" font-family='"Liberation Serif", serif' font-weight="normal" font-size="16.30" stroke="#000" stroke-width="0.45">(102)</text>
<text transform="translate(347.00 396.60) rotate(-90)" text-anchor="middle" font-family='"Liberation Serif", serif' font-weight="normal" font-size="16.30" stroke="#000" stroke-width="0.45">(110)</text>
<text transform="translate(374.00 392.60) rotate(-90)" text-anchor="middle" font-family='"Liberation Serif", serif' font-weight="normal" font-size="16.30" stroke="#000" stroke-width="0.45">(103)</text>
<g transform="translate(84.6 513.2) rotate(-90)"><text x="-16.81" y="0" font-family='"Liberation Sans", sans-serif' font-weight="bold" font-size="14.40">(00&#8199;)</text><path transform="translate(4.00 0) scale(0.00703 -0.00703)" d="M478 0L478 1170L140 959L140 1180L493 1409L759 1409L759 0Z"/></g>
</svg>
</body></html>
